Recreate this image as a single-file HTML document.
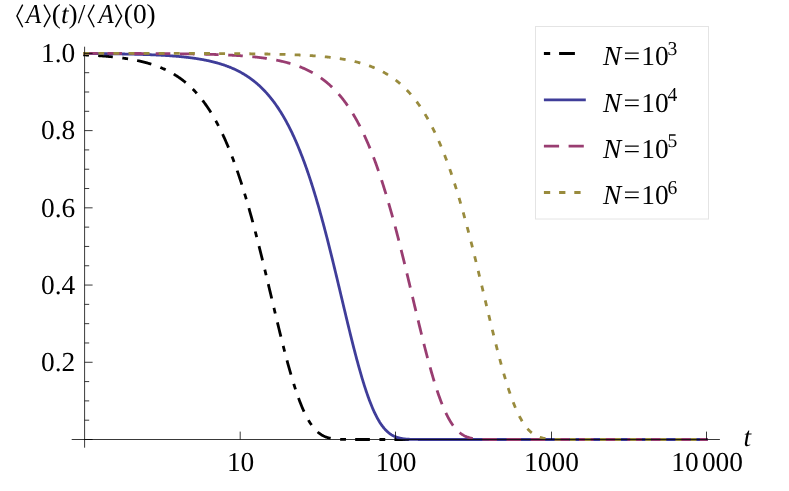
<!DOCTYPE html><html><head><meta charset="utf-8"><style>html,body{margin:0;padding:0;background:#fff}svg{display:block;will-change:transform}text{text-rendering:geometricPrecision;font-family:"Liberation Serif",serif;fill:#000}</style></head><body>
<svg width="789" height="491" viewBox="0 0 789 491">
<rect width="789" height="491" fill="#fff"/>
<path d="M83.20,54.85 L83.70,54.87 L84.20,54.89 L84.70,54.92 L85.20,54.94 L85.70,54.96 L86.20,54.99 L86.70,55.01 L87.20,55.03 L87.70,55.06 L88.20,55.08 L88.70,55.11 L89.20,55.13 L89.70,55.16 L90.20,55.18 L90.70,55.21 L91.20,55.24 L91.70,55.27 L92.20,55.29 L92.70,55.32 L93.20,55.35 L93.70,55.38 L94.20,55.41 L94.70,55.44 L95.20,55.47 L95.70,55.50 L96.20,55.53 L96.70,55.56 L97.20,55.59 L97.70,55.63 L98.20,55.66 L98.70,55.69 L99.20,55.73 L99.70,55.76 L100.20,55.80 L100.70,55.83 L101.20,55.87 L101.70,55.91 L102.20,55.94 L102.70,55.98 L103.20,56.02 L103.70,56.06 L104.20,56.10 L104.70,56.14 L105.20,56.18 L105.70,56.22 L106.20,56.26 L106.70,56.31 L107.20,56.35 L107.70,56.39 L108.20,56.44 L108.70,56.48 L109.20,56.53 L109.70,56.58 L110.20,56.62 L110.70,56.67 L111.20,56.72 L111.70,56.77 L112.20,56.82 L112.70,56.87 L113.20,56.92 L113.70,56.97 L114.20,57.03 L114.70,57.08 L115.20,57.14 L115.70,57.19 L116.20,57.25 L116.70,57.30 L117.20,57.36 L117.70,57.42 L118.20,57.48 L118.70,57.54 L119.20,57.60 L119.70,57.67 L120.20,57.73 L120.70,57.79 L121.20,57.86 L121.70,57.92 L122.20,57.99 L122.70,58.06 L123.20,58.13 L123.70,58.20 L124.20,58.27 L124.70,58.34 L125.20,58.42 L125.70,58.49 L126.20,58.57 L126.70,58.64 L127.20,58.72 L127.70,58.80 L128.20,58.88 L128.70,58.96 L129.20,59.04 L129.70,59.13 L130.20,59.21 L130.70,59.30 L131.20,59.39 L131.70,59.47 L132.20,59.56 L132.70,59.66 L133.20,59.75 L133.70,59.84 L134.20,59.94 L134.70,60.03 L135.20,60.13 L135.70,60.23 L136.20,60.33 L136.70,60.44 L137.20,60.54 L137.70,60.65 L138.20,60.75 L138.70,60.86 L139.20,60.97 L139.70,61.08 L140.20,61.20 L140.70,61.31 L141.20,61.43 L141.70,61.55 L142.20,61.67 L142.70,61.79 L143.20,61.91 L143.70,62.04 L144.20,62.17 L144.70,62.30 L145.20,62.43 L145.70,62.56 L146.20,62.70 L146.70,62.83 L147.20,62.97 L147.70,63.11 L148.20,63.26 L148.70,63.40 L149.20,63.55 L149.70,63.70 L150.20,63.85 L150.70,64.01 L151.20,64.16 L151.70,64.32 L152.20,64.48 L152.70,64.64 L153.20,64.81 L153.70,64.98 L154.20,65.15 L154.70,65.32 L155.20,65.50 L155.70,65.67 L156.20,65.85 L156.70,66.04 L157.20,66.22 L157.70,66.41 L158.20,66.60 L158.70,66.80 L159.20,66.99 L159.70,67.19 L160.20,67.39 L160.70,67.60 L161.20,67.81 L161.70,68.02 L162.20,68.23 L162.70,68.45 L163.20,68.67 L163.70,68.89 L164.20,69.12 L164.70,69.35 L165.20,69.58 L165.70,69.82 L166.20,70.06 L166.70,70.30 L167.20,70.55 L167.70,70.80 L168.20,71.05 L168.70,71.31 L169.20,71.57 L169.70,71.84 L170.20,72.11 L170.70,72.38 L171.20,72.65 L171.70,72.93 L172.20,73.22 L172.70,73.51 L173.20,73.80 L173.70,74.10 L174.20,74.40 L174.70,74.70 L175.20,75.01 L175.70,75.32 L176.20,75.64 L176.70,75.96 L177.20,76.29 L177.70,76.62 L178.20,76.96 L178.70,77.30 L179.20,77.64 L179.70,78.00 L180.20,78.35 L180.70,78.71 L181.20,79.08 L181.70,79.45 L182.20,79.82 L182.70,80.20 L183.20,80.59 L183.70,80.98 L184.20,81.38 L184.70,81.78 L185.20,82.19 L185.70,82.60 L186.20,83.02 L186.70,83.44 L187.20,83.87 L187.70,84.31 L188.20,84.75 L188.70,85.20 L189.20,85.66 L189.70,86.12 L190.20,86.58 L190.70,87.06 L191.20,87.54 L191.70,88.02 L192.20,88.52 L192.70,89.02 L193.20,89.52 L193.70,90.03 L194.20,90.55 L194.70,91.08 L195.20,91.62 L195.70,92.16 L196.20,92.71 L196.70,93.26 L197.20,93.82 L197.70,94.39 L198.20,94.97 L198.70,95.56 L199.20,96.15 L199.70,96.75 L200.20,97.36 L200.70,97.98 L201.20,98.61 L201.70,99.24 L202.20,99.88 L202.70,100.53 L203.20,101.19 L203.70,101.86 L204.20,102.53 L204.70,103.22 L205.20,103.91 L205.70,104.61 L206.20,105.32 L206.70,106.04 L207.20,106.77 L207.70,107.51 L208.20,108.26 L208.70,109.02 L209.20,109.78 L209.70,110.56 L210.20,111.35 L210.70,112.14 L211.20,112.95 L211.70,113.76 L212.20,114.59 L212.70,115.43 L213.20,116.27 L213.70,117.13 L214.20,118.00 L214.70,118.88 L215.20,119.76 L215.70,120.66 L216.20,121.57 L216.70,122.50 L217.20,123.43 L217.70,124.37 L218.20,125.33 L218.70,126.29 L219.20,127.27 L219.70,128.26 L220.20,129.26 L220.70,130.27 L221.20,131.29 L221.70,132.33 L222.20,133.38 L222.70,134.44 L223.20,135.51 L223.70,136.59 L224.20,137.69 L224.70,138.80 L225.20,139.92 L225.70,141.05 L226.20,142.20 L226.70,143.35 L227.20,144.53 L227.70,145.71 L228.20,146.91 L228.70,148.11 L229.20,149.34 L229.70,150.57 L230.20,151.82 L230.70,153.08 L231.20,154.36 L231.70,155.65 L232.20,156.95 L232.70,158.26 L233.20,159.59 L233.70,160.93 L234.20,162.29 L234.70,163.66 L235.20,165.04 L235.70,166.43 L236.20,167.84 L236.70,169.26 L237.20,170.70 L237.70,172.15 L238.20,173.61 L238.70,175.09 L239.20,176.58 L239.70,178.09 L240.20,179.61 L240.70,181.14 L241.20,182.68 L241.70,184.24 L242.20,185.82 L242.70,187.40 L243.20,189.00 L243.70,190.62 L244.20,192.24 L244.70,193.88 L245.20,195.54 L245.70,197.21 L246.20,198.89 L246.70,200.58 L247.20,202.29 L247.70,204.01 L248.20,205.74 L248.70,207.48 L249.20,209.24 L249.70,211.01 L250.20,212.80 L250.70,214.59 L251.20,216.40 L251.70,218.22 L252.20,220.05 L252.70,221.90 L253.20,223.75 L253.70,225.62 L254.20,227.50 L254.70,229.39 L255.20,231.29 L255.70,233.20 L256.20,235.13 L256.70,237.06 L257.20,239.00 L257.70,240.95 L258.20,242.92 L258.70,244.89 L259.20,246.87 L259.70,248.86 L260.20,250.86 L260.70,252.87 L261.20,254.88 L261.70,256.91 L262.20,258.94 L262.70,260.98 L263.20,263.02 L263.70,265.07 L264.20,267.13 L264.70,269.19 L265.20,271.26 L265.70,273.34 L266.20,275.42 L266.70,277.50 L267.20,279.59 L267.70,281.68 L268.20,283.78 L268.70,285.88 L269.20,287.98 L269.70,290.08 L270.20,292.18 L270.70,294.29 L271.20,296.39 L271.70,298.50 L272.20,300.60 L272.70,302.71 L273.20,304.81 L273.70,306.91 L274.20,309.01 L274.70,311.11 L275.20,313.21 L275.70,315.30 L276.20,317.38 L276.70,319.47 L277.20,321.54 L277.70,323.61 L278.20,325.68 L278.70,327.74 L279.20,329.79 L279.70,331.83 L280.20,333.86 L280.70,335.89 L281.20,337.90 L281.70,339.91 L282.20,341.91 L282.70,343.89 L283.20,345.86 L283.70,347.82 L284.20,349.77 L284.70,351.71 L285.20,353.63 L285.70,355.53 L286.20,357.43 L286.70,359.30 L287.20,361.16 L287.70,363.01 L288.20,364.84 L288.70,366.65 L289.20,368.44 L289.70,370.21 L290.20,371.97 L290.70,373.70 L291.20,375.42 L291.70,377.12 L292.20,378.79 L292.70,380.45 L293.20,382.08 L293.70,383.69 L294.20,385.28 L294.70,386.85 L295.20,388.39 L295.70,389.91 L296.20,391.41 L296.70,392.88 L297.20,394.33 L297.70,395.76 L298.20,397.16 L298.70,398.53 L299.20,399.88 L299.70,401.21 L300.20,402.50 L300.70,403.78 L301.20,405.03 L301.70,406.25 L302.20,407.44 L302.70,408.61 L303.20,409.76 L303.70,410.87 L304.20,411.97 L304.70,413.03 L305.20,414.07 L305.70,415.08 L306.20,416.07 L306.70,417.03 L307.20,417.96 L307.70,418.87 L308.20,419.76 L308.70,420.61 L309.20,421.45 L309.70,422.25 L310.20,423.04 L310.70,423.79 L311.20,424.53 L311.70,425.24 L312.20,425.92 L312.70,426.58 L313.20,427.22 L313.70,427.84 L314.20,428.43 L314.70,429.01 L315.20,429.56 L315.70,430.08 L316.20,430.59 L316.70,431.08 L317.20,431.55 L317.70,432.00 L318.20,432.43 L318.70,432.84 L319.20,433.23 L319.70,433.60 L320.20,433.96 L320.70,434.30 L321.20,434.62 L321.70,434.93 L322.20,435.22 L322.70,435.50 L323.20,435.77 L323.70,436.02 L324.20,436.25 L324.70,436.48 L325.20,436.69 L325.70,436.89 L326.20,437.08 L326.70,437.25 L327.20,437.42 L327.70,437.57 L328.20,437.72 L328.70,437.86 L329.20,437.99 L329.70,438.11 L330.20,438.22 L330.70,438.32 L331.20,438.42 L331.70,438.51 L332.20,438.60 L332.70,438.67 L333.20,438.75 L333.70,438.81 L334.20,438.88 L334.70,438.93 L335.20,438.99 L335.70,439.03 L336.20,439.08 L336.70,439.12 L337.20,439.16 L337.70,439.19 L338.20,439.22 L338.70,439.25 L339.20,439.28 L339.70,439.30 L340.20,439.32 L340.70,439.34 L341.20,439.36 L341.70,439.37 L342.20,439.39 L342.70,439.40 L343.20,439.41 L343.70,439.42 L344.20,439.43 L344.70,439.44 L345.20,439.45 L345.70,439.45 L346.20,439.46 L346.70,439.47 L347.20,439.47 L347.70,439.47 L348.20,439.48 L348.70,439.48 L349.20,439.48 L349.70,439.49 L350.20,439.49 L350.70,439.49 L351.20,439.49 L351.70,439.49 L352.20,439.49 L352.70,439.49 L353.20,439.50 L353.70,439.50 L354.20,439.50 L354.70,439.50 L355.20,439.50 L355.70,439.50 L356.20,439.50 L356.70,439.50 L357.20,439.50 L357.70,439.50 L358.20,439.50 L358.70,439.50 L359.20,439.50 L359.70,439.50 L360.20,439.50 L360.70,439.50 L361.20,439.50 L361.70,439.50 L362.20,439.50 L362.70,439.50 L363.20,439.50 L363.70,439.50 L364.20,439.50 L364.70,439.50 L365.20,439.50 L365.70,439.50 L366.20,439.50 L366.70,439.50 L367.20,439.50 L367.70,439.50 L368.20,439.50 L368.70,439.50 L369.20,439.50 L369.70,439.50 L370.20,439.50 L370.70,439.50 L371.20,439.50 L371.70,439.50 L372.20,439.50 L372.70,439.50 L373.20,439.50 L373.70,439.50 L374.20,439.50 L374.70,439.50 L375.20,439.50 L375.70,439.50 L376.20,439.50 L376.70,439.50 L377.20,439.50 L377.70,439.50 L378.20,439.50 L378.70,439.50 L379.20,439.50 L379.70,439.50 L380.20,439.50 L380.70,439.50 L381.20,439.50 L381.70,439.50 L382.20,439.50 L382.70,439.50 L383.20,439.50 L383.70,439.50 L384.20,439.50 L384.70,439.50 L385.20,439.50 L385.70,439.50 L386.20,439.50 L386.70,439.50 L387.20,439.50 L387.70,439.50 L388.20,439.50 L388.70,439.50 L389.20,439.50 L389.70,439.50 L390.20,439.50 L390.70,439.50 L391.20,439.50 L391.70,439.50 L392.20,439.50 L392.70,439.50 L393.20,439.50 L393.70,439.50 L394.20,439.50 L394.70,439.50 L395.20,439.50 L395.70,439.50 L396.20,439.50 L396.70,439.50 L397.20,439.50 L397.70,439.50 L398.20,439.50 L398.70,439.50 L399.20,439.50 L399.70,439.50 L400.20,439.50 L400.70,439.50 L401.20,439.50 L401.70,439.50 L402.20,439.50 L402.70,439.50 L403.20,439.50 L403.70,439.50 L404.20,439.50 L404.70,439.50 L405.20,439.50 L405.70,439.50 L406.20,439.50 L406.70,439.50 L407.20,439.50 L407.70,439.50 L408.20,439.50 L408.70,439.50 L409.20,439.50 L409.70,439.50 L410.20,439.50 L410.70,439.50 L411.20,439.50 L411.70,439.50 L412.20,439.50 L412.70,439.50 L413.20,439.50 L413.70,439.50 L414.20,439.50 L414.70,439.50 L415.20,439.50 L415.70,439.50 L416.20,439.50 L416.70,439.50 L417.20,439.50 L417.70,439.50 L418.20,439.50 L418.70,439.50 L419.20,439.50 L419.70,439.50 L420.20,439.50 L420.70,439.50 L421.20,439.50 L421.70,439.50 L422.20,439.50 L422.70,439.50 L423.20,439.50 L423.70,439.50 L424.20,439.50 L424.70,439.50 L425.20,439.50 L425.70,439.50 L426.20,439.50 L426.70,439.50 L427.20,439.50 L427.70,439.50 L428.20,439.50 L428.70,439.50 L429.20,439.50 L429.70,439.50 L430.20,439.50 L430.70,439.50 L431.20,439.50 L431.70,439.50 L432.20,439.50 L432.70,439.50 L433.20,439.50 L433.70,439.50 L434.20,439.50 L434.70,439.50 L435.20,439.50 L435.70,439.50 L436.20,439.50 L436.70,439.50 L437.20,439.50 L437.70,439.50 L438.20,439.50 L438.70,439.50 L439.20,439.50 L439.70,439.50 L440.20,439.50 L440.70,439.50 L441.20,439.50 L441.70,439.50 L442.20,439.50 L442.70,439.50 L443.20,439.50 L443.70,439.50 L444.20,439.50 L444.70,439.50 L445.20,439.50 L445.70,439.50 L446.20,439.50 L446.70,439.50 L447.20,439.50 L447.70,439.50 L448.20,439.50 L448.70,439.50 L449.20,439.50 L449.70,439.50 L450.20,439.50 L450.70,439.50 L451.20,439.50 L451.70,439.50 L452.20,439.50 L452.70,439.50 L453.20,439.50 L453.70,439.50 L454.20,439.50 L454.70,439.50 L455.20,439.50 L455.70,439.50 L456.20,439.50 L456.70,439.50 L457.20,439.50 L457.70,439.50 L458.20,439.50 L458.70,439.50 L459.20,439.50 L459.70,439.50 L460.20,439.50 L460.70,439.50 L461.20,439.50 L461.70,439.50 L462.20,439.50 L462.70,439.50 L463.20,439.50 L463.70,439.50 L464.20,439.50 L464.70,439.50 L465.20,439.50 L465.70,439.50 L466.20,439.50 L466.70,439.50 L467.20,439.50 L467.70,439.50 L468.20,439.50 L468.70,439.50 L469.20,439.50 L469.70,439.50 L470.20,439.50 L470.70,439.50 L471.20,439.50 L471.70,439.50 L472.20,439.50 L472.70,439.50 L473.20,439.50 L473.70,439.50 L474.20,439.50 L474.70,439.50 L475.20,439.50 L475.70,439.50 L476.20,439.50 L476.70,439.50 L477.20,439.50 L477.70,439.50 L478.20,439.50 L478.70,439.50 L479.20,439.50 L479.70,439.50 L480.20,439.50 L480.70,439.50 L481.20,439.50 L481.70,439.50 L482.20,439.50 L482.70,439.50 L483.20,439.50 L483.70,439.50 L484.20,439.50 L484.70,439.50 L485.20,439.50 L485.70,439.50 L486.20,439.50 L486.70,439.50 L487.20,439.50 L487.70,439.50 L488.20,439.50 L488.70,439.50 L489.20,439.50 L489.70,439.50 L490.20,439.50 L490.70,439.50 L491.20,439.50 L491.70,439.50 L492.20,439.50 L492.70,439.50 L493.20,439.50 L493.70,439.50 L494.20,439.50 L494.70,439.50 L495.20,439.50 L495.70,439.50 L496.20,439.50 L496.70,439.50 L497.20,439.50 L497.70,439.50 L498.20,439.50 L498.70,439.50 L499.20,439.50 L499.70,439.50 L500.20,439.50 L500.70,439.50 L501.20,439.50 L501.70,439.50 L502.20,439.50 L502.70,439.50 L503.20,439.50 L503.70,439.50 L504.20,439.50 L504.70,439.50 L505.20,439.50 L505.70,439.50 L506.20,439.50 L506.70,439.50 L507.20,439.50 L507.70,439.50 L508.20,439.50 L508.70,439.50 L509.20,439.50 L509.70,439.50 L510.20,439.50 L510.70,439.50 L511.20,439.50 L511.70,439.50 L512.20,439.50 L512.70,439.50 L513.20,439.50 L513.70,439.50 L514.20,439.50 L514.70,439.50 L515.20,439.50 L515.70,439.50 L516.20,439.50 L516.70,439.50 L517.20,439.50 L517.70,439.50 L518.20,439.50 L518.70,439.50 L519.20,439.50 L519.70,439.50 L520.20,439.50 L520.70,439.50 L521.20,439.50 L521.70,439.50 L522.20,439.50 L522.70,439.50 L523.20,439.50 L523.70,439.50 L524.20,439.50 L524.70,439.50 L525.20,439.50 L525.70,439.50 L526.20,439.50 L526.70,439.50 L527.20,439.50 L527.70,439.50 L528.20,439.50 L528.70,439.50 L529.20,439.50 L529.70,439.50 L530.20,439.50 L530.70,439.50 L531.20,439.50 L531.70,439.50 L532.20,439.50 L532.70,439.50 L533.20,439.50 L533.70,439.50 L534.20,439.50 L534.70,439.50 L535.20,439.50 L535.70,439.50 L536.20,439.50 L536.70,439.50 L537.20,439.50 L537.70,439.50 L538.20,439.50 L538.70,439.50 L539.20,439.50 L539.70,439.50 L540.20,439.50 L540.70,439.50 L541.20,439.50 L541.70,439.50 L542.20,439.50 L542.70,439.50 L543.20,439.50 L543.70,439.50 L544.20,439.50 L544.70,439.50 L545.20,439.50 L545.70,439.50 L546.20,439.50 L546.70,439.50 L547.20,439.50 L547.70,439.50 L548.20,439.50 L548.70,439.50 L549.20,439.50 L549.70,439.50 L550.20,439.50 L550.70,439.50 L551.20,439.50 L551.70,439.50 L552.20,439.50 L552.70,439.50 L553.20,439.50 L553.70,439.50 L554.20,439.50 L554.70,439.50 L555.20,439.50 L555.70,439.50 L556.20,439.50 L556.70,439.50 L557.20,439.50 L557.70,439.50 L558.20,439.50 L558.70,439.50 L559.20,439.50 L559.70,439.50 L560.20,439.50 L560.70,439.50 L561.20,439.50 L561.70,439.50 L562.20,439.50 L562.70,439.50 L563.20,439.50 L563.70,439.50 L564.20,439.50 L564.70,439.50 L565.20,439.50 L565.70,439.50 L566.20,439.50 L566.70,439.50 L567.20,439.50 L567.70,439.50 L568.20,439.50 L568.70,439.50 L569.20,439.50 L569.70,439.50 L570.20,439.50 L570.70,439.50 L571.20,439.50 L571.70,439.50 L572.20,439.50 L572.70,439.50 L573.20,439.50 L573.70,439.50 L574.20,439.50 L574.70,439.50 L575.20,439.50 L575.70,439.50 L576.20,439.50 L576.70,439.50 L577.20,439.50 L577.70,439.50 L578.20,439.50 L578.70,439.50 L579.20,439.50 L579.70,439.50 L580.20,439.50 L580.70,439.50 L581.20,439.50 L581.70,439.50 L582.20,439.50 L582.70,439.50 L583.20,439.50 L583.70,439.50 L584.20,439.50 L584.70,439.50 L585.20,439.50 L585.70,439.50 L586.20,439.50 L586.70,439.50 L587.20,439.50 L587.70,439.50 L588.20,439.50 L588.70,439.50 L589.20,439.50 L589.70,439.50 L590.20,439.50 L590.70,439.50 L591.20,439.50 L591.70,439.50 L592.20,439.50 L592.70,439.50 L593.20,439.50 L593.70,439.50 L594.20,439.50 L594.70,439.50 L595.20,439.50 L595.70,439.50 L596.20,439.50 L596.70,439.50 L597.20,439.50 L597.70,439.50 L598.20,439.50 L598.70,439.50 L599.20,439.50 L599.70,439.50 L600.20,439.50 L600.70,439.50 L601.20,439.50 L601.70,439.50 L602.20,439.50 L602.70,439.50 L603.20,439.50 L603.70,439.50 L604.20,439.50 L604.70,439.50 L605.20,439.50 L605.70,439.50 L606.20,439.50 L606.70,439.50 L607.20,439.50 L607.70,439.50 L608.20,439.50 L608.70,439.50 L609.20,439.50 L609.70,439.50 L610.20,439.50 L610.70,439.50 L611.20,439.50 L611.70,439.50 L612.20,439.50 L612.70,439.50 L613.20,439.50 L613.70,439.50 L614.20,439.50 L614.70,439.50 L615.20,439.50 L615.70,439.50 L616.20,439.50 L616.70,439.50 L617.20,439.50 L617.70,439.50 L618.20,439.50 L618.70,439.50 L619.20,439.50 L619.70,439.50 L620.20,439.50 L620.70,439.50 L621.20,439.50 L621.70,439.50 L622.20,439.50 L622.70,439.50 L623.20,439.50 L623.70,439.50 L624.20,439.50 L624.70,439.50 L625.20,439.50 L625.70,439.50 L626.20,439.50 L626.70,439.50 L627.20,439.50 L627.70,439.50 L628.20,439.50 L628.70,439.50 L629.20,439.50 L629.70,439.50 L630.20,439.50 L630.70,439.50 L631.20,439.50 L631.70,439.50 L632.20,439.50 L632.70,439.50 L633.20,439.50 L633.70,439.50 L634.20,439.50 L634.70,439.50 L635.20,439.50 L635.70,439.50 L636.20,439.50 L636.70,439.50 L637.20,439.50 L637.70,439.50 L638.20,439.50 L638.70,439.50 L639.20,439.50 L639.70,439.50 L640.20,439.50 L640.70,439.50 L641.20,439.50 L641.70,439.50 L642.20,439.50 L642.70,439.50 L643.20,439.50 L643.70,439.50 L644.20,439.50 L644.70,439.50 L645.20,439.50 L645.70,439.50 L646.20,439.50 L646.70,439.50 L647.20,439.50 L647.70,439.50 L648.20,439.50 L648.70,439.50 L649.20,439.50 L649.70,439.50 L650.20,439.50 L650.70,439.50 L651.20,439.50 L651.70,439.50 L652.20,439.50 L652.70,439.50 L653.20,439.50 L653.70,439.50 L654.20,439.50 L654.70,439.50 L655.20,439.50 L655.70,439.50 L656.20,439.50 L656.70,439.50 L657.20,439.50 L657.70,439.50 L658.20,439.50 L658.70,439.50 L659.20,439.50 L659.70,439.50 L660.20,439.50 L660.70,439.50 L661.20,439.50 L661.70,439.50 L662.20,439.50 L662.70,439.50 L663.20,439.50 L663.70,439.50 L664.20,439.50 L664.70,439.50 L665.20,439.50 L665.70,439.50 L666.20,439.50 L666.70,439.50 L667.20,439.50 L667.70,439.50 L668.20,439.50 L668.70,439.50 L669.20,439.50 L669.70,439.50 L670.20,439.50 L670.70,439.50 L671.20,439.50 L671.70,439.50 L672.20,439.50 L672.70,439.50 L673.20,439.50 L673.70,439.50 L674.20,439.50 L674.70,439.50 L675.20,439.50 L675.70,439.50 L676.20,439.50 L676.70,439.50 L677.20,439.50 L677.70,439.50 L678.20,439.50 L678.70,439.50 L679.20,439.50 L679.70,439.50 L680.20,439.50 L680.70,439.50 L681.20,439.50 L681.70,439.50 L682.20,439.50 L682.70,439.50 L683.20,439.50 L683.70,439.50 L684.20,439.50 L684.70,439.50 L685.20,439.50 L685.70,439.50 L686.20,439.50 L686.70,439.50 L687.20,439.50 L687.70,439.50 L688.20,439.50 L688.70,439.50 L689.20,439.50 L689.70,439.50 L690.20,439.50 L690.70,439.50 L691.20,439.50 L691.70,439.50 L692.20,439.50 L692.70,439.50 L693.20,439.50 L693.70,439.50 L694.20,439.50 L694.70,439.50 L695.20,439.50 L695.70,439.50 L696.20,439.50 L696.70,439.50 L697.20,439.50 L697.70,439.50 L698.20,439.50 L698.70,439.50 L699.20,439.50 L699.70,439.50 L700.20,439.50 L700.70,439.50 L701.20,439.50 L701.70,439.50 L702.20,439.50 L702.70,439.50 L703.20,439.50 L703.70,439.50 L704.20,439.50 L704.70,439.50 L705.20,439.50 L705.70,439.50 L706.20,439.50 L706.70,439.50 L707.20,439.50 L707.70,439.50" fill="none" stroke="#000000" stroke-width="2.8" stroke-dasharray="5.8 9.2 14.7 9.575"/>
<path d="M83.20,53.58 L83.70,53.58 L84.20,53.59 L84.70,53.59 L85.20,53.59 L85.70,53.60 L86.20,53.60 L86.70,53.60 L87.20,53.60 L87.70,53.61 L88.20,53.61 L88.70,53.61 L89.20,53.62 L89.70,53.62 L90.20,53.62 L90.70,53.63 L91.20,53.63 L91.70,53.63 L92.20,53.64 L92.70,53.64 L93.20,53.64 L93.70,53.65 L94.20,53.65 L94.70,53.66 L95.20,53.66 L95.70,53.66 L96.20,53.67 L96.70,53.67 L97.20,53.68 L97.70,53.68 L98.20,53.68 L98.70,53.69 L99.20,53.69 L99.70,53.70 L100.20,53.70 L100.70,53.71 L101.20,53.71 L101.70,53.71 L102.20,53.72 L102.70,53.72 L103.20,53.73 L103.70,53.73 L104.20,53.74 L104.70,53.74 L105.20,53.75 L105.70,53.75 L106.20,53.76 L106.70,53.77 L107.20,53.77 L107.70,53.78 L108.20,53.78 L108.70,53.79 L109.20,53.79 L109.70,53.80 L110.20,53.80 L110.70,53.81 L111.20,53.82 L111.70,53.82 L112.20,53.83 L112.70,53.84 L113.20,53.84 L113.70,53.85 L114.20,53.86 L114.70,53.86 L115.20,53.87 L115.70,53.88 L116.20,53.88 L116.70,53.89 L117.20,53.90 L117.70,53.91 L118.20,53.91 L118.70,53.92 L119.20,53.93 L119.70,53.94 L120.20,53.94 L120.70,53.95 L121.20,53.96 L121.70,53.97 L122.20,53.98 L122.70,53.99 L123.20,54.00 L123.70,54.00 L124.20,54.01 L124.70,54.02 L125.20,54.03 L125.70,54.04 L126.20,54.05 L126.70,54.06 L127.20,54.07 L127.70,54.08 L128.20,54.09 L128.70,54.10 L129.20,54.11 L129.70,54.12 L130.20,54.13 L130.70,54.14 L131.20,54.15 L131.70,54.17 L132.20,54.18 L132.70,54.19 L133.20,54.20 L133.70,54.21 L134.20,54.22 L134.70,54.24 L135.20,54.25 L135.70,54.26 L136.20,54.27 L136.70,54.29 L137.20,54.30 L137.70,54.31 L138.20,54.33 L138.70,54.34 L139.20,54.36 L139.70,54.37 L140.20,54.38 L140.70,54.40 L141.20,54.41 L141.70,54.43 L142.20,54.44 L142.70,54.46 L143.20,54.48 L143.70,54.49 L144.20,54.51 L144.70,54.53 L145.20,54.54 L145.70,54.56 L146.20,54.58 L146.70,54.59 L147.20,54.61 L147.70,54.63 L148.20,54.65 L148.70,54.67 L149.20,54.69 L149.70,54.70 L150.20,54.72 L150.70,54.74 L151.20,54.76 L151.70,54.78 L152.20,54.81 L152.70,54.83 L153.20,54.85 L153.70,54.87 L154.20,54.89 L154.70,54.91 L155.20,54.94 L155.70,54.96 L156.20,54.98 L156.70,55.01 L157.20,55.03 L157.70,55.05 L158.20,55.08 L158.70,55.10 L159.20,55.13 L159.70,55.15 L160.20,55.18 L160.70,55.21 L161.20,55.23 L161.70,55.26 L162.20,55.29 L162.70,55.32 L163.20,55.35 L163.70,55.37 L164.20,55.40 L164.70,55.43 L165.20,55.46 L165.70,55.49 L166.20,55.53 L166.70,55.56 L167.20,55.59 L167.70,55.62 L168.20,55.66 L168.70,55.69 L169.20,55.72 L169.70,55.76 L170.20,55.79 L170.70,55.83 L171.20,55.86 L171.70,55.90 L172.20,55.94 L172.70,55.98 L173.20,56.01 L173.70,56.05 L174.20,56.09 L174.70,56.13 L175.20,56.17 L175.70,56.22 L176.20,56.26 L176.70,56.30 L177.20,56.34 L177.70,56.39 L178.20,56.43 L178.70,56.48 L179.20,56.52 L179.70,56.57 L180.20,56.62 L180.70,56.66 L181.20,56.71 L181.70,56.76 L182.20,56.81 L182.70,56.86 L183.20,56.91 L183.70,56.97 L184.20,57.02 L184.70,57.07 L185.20,57.13 L185.70,57.18 L186.20,57.24 L186.70,57.30 L187.20,57.35 L187.70,57.41 L188.20,57.47 L188.70,57.53 L189.20,57.59 L189.70,57.66 L190.20,57.72 L190.70,57.78 L191.20,57.85 L191.70,57.91 L192.20,57.98 L192.70,58.05 L193.20,58.12 L193.70,58.19 L194.20,58.26 L194.70,58.33 L195.20,58.41 L195.70,58.48 L196.20,58.55 L196.70,58.63 L197.20,58.71 L197.70,58.79 L198.20,58.87 L198.70,58.95 L199.20,59.03 L199.70,59.11 L200.20,59.20 L200.70,59.28 L201.20,59.37 L201.70,59.46 L202.20,59.55 L202.70,59.64 L203.20,59.73 L203.70,59.83 L204.20,59.92 L204.70,60.02 L205.20,60.12 L205.70,60.22 L206.20,60.32 L206.70,60.42 L207.20,60.52 L207.70,60.63 L208.20,60.74 L208.70,60.85 L209.20,60.96 L209.70,61.07 L210.20,61.18 L210.70,61.30 L211.20,61.41 L211.70,61.53 L212.20,61.65 L212.70,61.77 L213.20,61.90 L213.70,62.02 L214.20,62.15 L214.70,62.28 L215.20,62.41 L215.70,62.54 L216.20,62.68 L216.70,62.81 L217.20,62.95 L217.70,63.09 L218.20,63.24 L218.70,63.38 L219.20,63.53 L219.70,63.68 L220.20,63.83 L220.70,63.98 L221.20,64.14 L221.70,64.30 L222.20,64.46 L222.70,64.62 L223.20,64.79 L223.70,64.95 L224.20,65.12 L224.70,65.30 L225.20,65.47 L225.70,65.65 L226.20,65.83 L226.70,66.01 L227.20,66.20 L227.70,66.38 L228.20,66.57 L228.70,66.77 L229.20,66.96 L229.70,67.16 L230.20,67.36 L230.70,67.57 L231.20,67.78 L231.70,67.99 L232.20,68.20 L232.70,68.42 L233.20,68.64 L233.70,68.86 L234.20,69.09 L234.70,69.32 L235.20,69.55 L235.70,69.78 L236.20,70.02 L236.70,70.27 L237.20,70.51 L237.70,70.76 L238.20,71.02 L238.70,71.27 L239.20,71.53 L239.70,71.80 L240.20,72.07 L240.70,72.34 L241.20,72.61 L241.70,72.89 L242.20,73.18 L242.70,73.46 L243.20,73.76 L243.70,74.05 L244.20,74.35 L244.70,74.66 L245.20,74.96 L245.70,75.28 L246.20,75.59 L246.70,75.92 L247.20,76.24 L247.70,76.57 L248.20,76.91 L248.70,77.25 L249.20,77.59 L249.70,77.94 L250.20,78.30 L250.70,78.66 L251.20,79.02 L251.70,79.39 L252.20,79.77 L252.70,80.15 L253.20,80.53 L253.70,80.92 L254.20,81.32 L254.70,81.72 L255.20,82.13 L255.70,82.54 L256.20,82.96 L256.70,83.38 L257.20,83.81 L257.70,84.24 L258.20,84.69 L258.70,85.13 L259.20,85.59 L259.70,86.05 L260.20,86.51 L260.70,86.99 L261.20,87.47 L261.70,87.95 L262.20,88.44 L262.70,88.94 L263.20,89.45 L263.70,89.96 L264.20,90.48 L264.70,91.00 L265.20,91.54 L265.70,92.08 L266.20,92.62 L266.70,93.18 L267.20,93.74 L267.70,94.31 L268.20,94.89 L268.70,95.47 L269.20,96.06 L269.70,96.66 L270.20,97.27 L270.70,97.89 L271.20,98.51 L271.70,99.14 L272.20,99.79 L272.70,100.43 L273.20,101.09 L273.70,101.76 L274.20,102.43 L274.70,103.11 L275.20,103.81 L275.70,104.51 L276.20,105.22 L276.70,105.94 L277.20,106.66 L277.70,107.40 L278.20,108.15 L278.70,108.90 L279.20,109.67 L279.70,110.44 L280.20,111.23 L280.70,112.02 L281.20,112.83 L281.70,113.64 L282.20,114.47 L282.70,115.30 L283.20,116.15 L283.70,117.00 L284.20,117.87 L284.70,118.74 L285.20,119.63 L285.70,120.53 L286.20,121.44 L286.70,122.36 L287.20,123.29 L287.70,124.23 L288.20,125.18 L288.70,126.15 L289.20,127.12 L289.70,128.11 L290.20,129.11 L290.70,130.12 L291.20,131.14 L291.70,132.18 L292.20,133.22 L292.70,134.28 L293.20,135.35 L293.70,136.43 L294.20,137.52 L294.70,138.63 L295.20,139.75 L295.70,140.88 L296.20,142.03 L296.70,143.18 L297.20,144.35 L297.70,145.53 L298.20,146.73 L298.70,147.94 L299.20,149.16 L299.70,150.39 L300.20,151.64 L300.70,152.90 L301.20,154.17 L301.70,155.45 L302.20,156.75 L302.70,158.07 L303.20,159.39 L303.70,160.73 L304.20,162.09 L304.70,163.45 L305.20,164.83 L305.70,166.23 L306.20,167.63 L306.70,169.05 L307.20,170.49 L307.70,171.94 L308.20,173.40 L308.70,174.87 L309.20,176.36 L309.70,177.86 L310.20,179.38 L310.70,180.91 L311.20,182.45 L311.70,184.01 L312.20,185.58 L312.70,187.17 L313.20,188.77 L313.70,190.38 L314.20,192.00 L314.70,193.64 L315.20,195.29 L315.70,196.96 L316.20,198.64 L316.70,200.33 L317.20,202.03 L317.70,203.75 L318.20,205.48 L318.70,207.23 L319.20,208.98 L319.70,210.75 L320.20,212.53 L320.70,214.33 L321.20,216.13 L321.70,217.95 L322.20,219.78 L322.70,221.62 L323.20,223.48 L323.70,225.34 L324.20,227.22 L324.70,229.11 L325.20,231.01 L325.70,232.92 L326.20,234.84 L326.70,236.77 L327.20,238.71 L327.70,240.66 L328.20,242.63 L328.70,244.60 L329.20,246.58 L329.70,248.57 L330.20,250.56 L330.70,252.57 L331.20,254.58 L331.70,256.61 L332.20,258.64 L332.70,260.67 L333.20,262.72 L333.70,264.77 L334.20,266.83 L334.70,268.89 L335.20,270.96 L335.70,273.03 L336.20,275.11 L336.70,277.19 L337.20,279.28 L337.70,281.37 L338.20,283.47 L338.70,285.56 L339.20,287.66 L339.70,289.77 L340.20,291.87 L340.70,293.97 L341.20,296.08 L341.70,298.19 L342.20,300.29 L342.70,302.40 L343.20,304.50 L343.70,306.60 L344.20,308.70 L344.70,310.80 L345.20,312.90 L345.70,314.99 L346.20,317.08 L346.70,319.16 L347.20,321.24 L347.70,323.31 L348.20,325.37 L348.70,327.43 L349.20,329.48 L349.70,331.53 L350.20,333.56 L350.70,335.59 L351.20,337.61 L351.70,339.61 L352.20,341.61 L352.70,343.60 L353.20,345.57 L353.70,347.53 L354.20,349.48 L354.70,351.42 L355.20,353.34 L355.70,355.25 L356.20,357.15 L356.70,359.03 L357.20,360.89 L357.70,362.74 L358.20,364.57 L358.70,366.38 L359.20,368.17 L359.70,369.95 L360.20,371.71 L360.70,373.45 L361.20,375.17 L361.70,376.87 L362.20,378.54 L362.70,380.20 L363.20,381.84 L363.70,383.45 L364.20,385.05 L364.70,386.62 L365.20,388.16 L365.70,389.69 L366.20,391.19 L366.70,392.67 L367.20,394.12 L367.70,395.55 L368.20,396.95 L368.70,398.33 L369.20,399.68 L369.70,401.01 L370.20,402.31 L370.70,403.59 L371.20,404.84 L371.70,406.07 L372.20,407.27 L372.70,408.44 L373.20,409.59 L373.70,410.71 L374.20,411.81 L374.70,412.87 L375.20,413.92 L375.70,414.93 L376.20,415.92 L376.70,416.89 L377.20,417.83 L377.70,418.74 L378.20,419.63 L378.70,420.49 L379.20,421.32 L379.70,422.14 L380.20,422.92 L380.70,423.68 L381.20,424.42 L381.70,425.13 L382.20,425.82 L382.70,426.49 L383.20,427.13 L383.70,427.75 L384.20,428.35 L384.70,428.92 L385.20,429.48 L385.70,430.01 L386.20,430.52 L386.70,431.01 L387.20,431.48 L387.70,431.93 L388.20,432.36 L388.70,432.78 L389.20,433.17 L389.70,433.55 L390.20,433.91 L390.70,434.25 L391.20,434.58 L391.70,434.89 L392.20,435.18 L392.70,435.46 L393.20,435.73 L393.70,435.98 L394.20,436.22 L394.70,436.44 L395.20,436.66 L395.70,436.86 L396.20,437.05 L396.70,437.23 L397.20,437.39 L397.70,437.55 L398.20,437.70 L398.70,437.84 L399.20,437.97 L399.70,438.09 L400.20,438.20 L400.70,438.31 L401.20,438.41 L401.70,438.50 L402.20,438.58 L402.70,438.66 L403.20,438.74 L403.70,438.80 L404.20,438.87 L404.70,438.93 L405.20,438.98 L405.70,439.03 L406.20,439.07 L406.70,439.11 L407.20,439.15 L407.70,439.19 L408.20,439.22 L408.70,439.25 L409.20,439.27 L409.70,439.30 L410.20,439.32 L410.70,439.34 L411.20,439.36 L411.70,439.37 L412.20,439.39 L412.70,439.40 L413.20,439.41 L413.70,439.42 L414.20,439.43 L414.70,439.44 L415.20,439.45 L415.70,439.45 L416.20,439.46 L416.70,439.46 L417.20,439.47 L417.70,439.47 L418.20,439.48 L418.70,439.48 L419.20,439.48 L419.70,439.49 L420.20,439.49 L420.70,439.49 L421.20,439.49 L421.70,439.49 L422.20,439.49 L422.70,439.49 L423.20,439.50 L423.70,439.50 L424.20,439.50 L424.70,439.50 L425.20,439.50 L425.70,439.50 L426.20,439.50 L426.70,439.50 L427.20,439.50 L427.70,439.50 L428.20,439.50 L428.70,439.50 L429.20,439.50 L429.70,439.50 L430.20,439.50 L430.70,439.50 L431.20,439.50 L431.70,439.50 L432.20,439.50 L432.70,439.50 L433.20,439.50 L433.70,439.50 L434.20,439.50 L434.70,439.50 L435.20,439.50 L435.70,439.50 L436.20,439.50 L436.70,439.50 L437.20,439.50 L437.70,439.50 L438.20,439.50 L438.70,439.50 L439.20,439.50 L439.70,439.50 L440.20,439.50 L440.70,439.50 L441.20,439.50 L441.70,439.50 L442.20,439.50 L442.70,439.50 L443.20,439.50 L443.70,439.50 L444.20,439.50 L444.70,439.50 L445.20,439.50 L445.70,439.50 L446.20,439.50 L446.70,439.50 L447.20,439.50 L447.70,439.50 L448.20,439.50 L448.70,439.50 L449.20,439.50 L449.70,439.50 L450.20,439.50 L450.70,439.50 L451.20,439.50 L451.70,439.50 L452.20,439.50 L452.70,439.50 L453.20,439.50 L453.70,439.50 L454.20,439.50 L454.70,439.50 L455.20,439.50 L455.70,439.50 L456.20,439.50 L456.70,439.50 L457.20,439.50 L457.70,439.50 L458.20,439.50 L458.70,439.50 L459.20,439.50 L459.70,439.50 L460.20,439.50 L460.70,439.50 L461.20,439.50 L461.70,439.50 L462.20,439.50 L462.70,439.50 L463.20,439.50 L463.70,439.50 L464.20,439.50 L464.70,439.50 L465.20,439.50 L465.70,439.50 L466.20,439.50 L466.70,439.50 L467.20,439.50 L467.70,439.50 L468.20,439.50 L468.70,439.50 L469.20,439.50 L469.70,439.50 L470.20,439.50 L470.70,439.50 L471.20,439.50 L471.70,439.50 L472.20,439.50 L472.70,439.50 L473.20,439.50 L473.70,439.50 L474.20,439.50 L474.70,439.50 L475.20,439.50 L475.70,439.50 L476.20,439.50 L476.70,439.50 L477.20,439.50 L477.70,439.50 L478.20,439.50 L478.70,439.50 L479.20,439.50 L479.70,439.50 L480.20,439.50 L480.70,439.50 L481.20,439.50 L481.70,439.50 L482.20,439.50 L482.70,439.50 L483.20,439.50 L483.70,439.50 L484.20,439.50 L484.70,439.50 L485.20,439.50 L485.70,439.50 L486.20,439.50 L486.70,439.50 L487.20,439.50 L487.70,439.50 L488.20,439.50 L488.70,439.50 L489.20,439.50 L489.70,439.50 L490.20,439.50 L490.70,439.50 L491.20,439.50 L491.70,439.50 L492.20,439.50 L492.70,439.50 L493.20,439.50 L493.70,439.50 L494.20,439.50 L494.70,439.50 L495.20,439.50 L495.70,439.50 L496.20,439.50 L496.70,439.50 L497.20,439.50 L497.70,439.50 L498.20,439.50 L498.70,439.50 L499.20,439.50 L499.70,439.50 L500.20,439.50 L500.70,439.50 L501.20,439.50 L501.70,439.50 L502.20,439.50 L502.70,439.50 L503.20,439.50 L503.70,439.50 L504.20,439.50 L504.70,439.50 L505.20,439.50 L505.70,439.50 L506.20,439.50 L506.70,439.50 L507.20,439.50 L507.70,439.50 L508.20,439.50 L508.70,439.50 L509.20,439.50 L509.70,439.50 L510.20,439.50 L510.70,439.50 L511.20,439.50 L511.70,439.50 L512.20,439.50 L512.70,439.50 L513.20,439.50 L513.70,439.50 L514.20,439.50 L514.70,439.50 L515.20,439.50 L515.70,439.50 L516.20,439.50 L516.70,439.50 L517.20,439.50 L517.70,439.50 L518.20,439.50 L518.70,439.50 L519.20,439.50 L519.70,439.50 L520.20,439.50 L520.70,439.50 L521.20,439.50 L521.70,439.50 L522.20,439.50 L522.70,439.50 L523.20,439.50 L523.70,439.50 L524.20,439.50 L524.70,439.50 L525.20,439.50 L525.70,439.50 L526.20,439.50 L526.70,439.50 L527.20,439.50 L527.70,439.50 L528.20,439.50 L528.70,439.50 L529.20,439.50 L529.70,439.50 L530.20,439.50 L530.70,439.50 L531.20,439.50 L531.70,439.50 L532.20,439.50 L532.70,439.50 L533.20,439.50 L533.70,439.50 L534.20,439.50 L534.70,439.50 L535.20,439.50 L535.70,439.50 L536.20,439.50 L536.70,439.50 L537.20,439.50 L537.70,439.50 L538.20,439.50 L538.70,439.50 L539.20,439.50 L539.70,439.50 L540.20,439.50 L540.70,439.50 L541.20,439.50 L541.70,439.50 L542.20,439.50 L542.70,439.50 L543.20,439.50 L543.70,439.50 L544.20,439.50 L544.70,439.50 L545.20,439.50 L545.70,439.50 L546.20,439.50 L546.70,439.50 L547.20,439.50 L547.70,439.50 L548.20,439.50 L548.70,439.50 L549.20,439.50 L549.70,439.50 L550.20,439.50 L550.70,439.50 L551.20,439.50 L551.70,439.50 L552.20,439.50 L552.70,439.50 L553.20,439.50 L553.70,439.50 L554.20,439.50 L554.70,439.50 L555.20,439.50 L555.70,439.50 L556.20,439.50 L556.70,439.50 L557.20,439.50 L557.70,439.50 L558.20,439.50 L558.70,439.50 L559.20,439.50 L559.70,439.50 L560.20,439.50 L560.70,439.50 L561.20,439.50 L561.70,439.50 L562.20,439.50 L562.70,439.50 L563.20,439.50 L563.70,439.50 L564.20,439.50 L564.70,439.50 L565.20,439.50 L565.70,439.50 L566.20,439.50 L566.70,439.50 L567.20,439.50 L567.70,439.50 L568.20,439.50 L568.70,439.50 L569.20,439.50 L569.70,439.50 L570.20,439.50 L570.70,439.50 L571.20,439.50 L571.70,439.50 L572.20,439.50 L572.70,439.50 L573.20,439.50 L573.70,439.50 L574.20,439.50 L574.70,439.50 L575.20,439.50 L575.70,439.50 L576.20,439.50 L576.70,439.50 L577.20,439.50 L577.70,439.50 L578.20,439.50 L578.70,439.50 L579.20,439.50 L579.70,439.50 L580.20,439.50 L580.70,439.50 L581.20,439.50 L581.70,439.50 L582.20,439.50 L582.70,439.50 L583.20,439.50 L583.70,439.50 L584.20,439.50 L584.70,439.50 L585.20,439.50 L585.70,439.50 L586.20,439.50 L586.70,439.50 L587.20,439.50 L587.70,439.50 L588.20,439.50 L588.70,439.50 L589.20,439.50 L589.70,439.50 L590.20,439.50 L590.70,439.50 L591.20,439.50 L591.70,439.50 L592.20,439.50 L592.70,439.50 L593.20,439.50 L593.70,439.50 L594.20,439.50 L594.70,439.50 L595.20,439.50 L595.70,439.50 L596.20,439.50 L596.70,439.50 L597.20,439.50 L597.70,439.50 L598.20,439.50 L598.70,439.50 L599.20,439.50 L599.70,439.50 L600.20,439.50 L600.70,439.50 L601.20,439.50 L601.70,439.50 L602.20,439.50 L602.70,439.50 L603.20,439.50 L603.70,439.50 L604.20,439.50 L604.70,439.50 L605.20,439.50 L605.70,439.50 L606.20,439.50 L606.70,439.50 L607.20,439.50 L607.70,439.50 L608.20,439.50 L608.70,439.50 L609.20,439.50 L609.70,439.50 L610.20,439.50 L610.70,439.50 L611.20,439.50 L611.70,439.50 L612.20,439.50 L612.70,439.50 L613.20,439.50 L613.70,439.50 L614.20,439.50 L614.70,439.50 L615.20,439.50 L615.70,439.50 L616.20,439.50 L616.70,439.50 L617.20,439.50 L617.70,439.50 L618.20,439.50 L618.70,439.50 L619.20,439.50 L619.70,439.50 L620.20,439.50 L620.70,439.50 L621.20,439.50 L621.70,439.50 L622.20,439.50 L622.70,439.50 L623.20,439.50 L623.70,439.50 L624.20,439.50 L624.70,439.50 L625.20,439.50 L625.70,439.50 L626.20,439.50 L626.70,439.50 L627.20,439.50 L627.70,439.50 L628.20,439.50 L628.70,439.50 L629.20,439.50 L629.70,439.50 L630.20,439.50 L630.70,439.50 L631.20,439.50 L631.70,439.50 L632.20,439.50 L632.70,439.50 L633.20,439.50 L633.70,439.50 L634.20,439.50 L634.70,439.50 L635.20,439.50 L635.70,439.50 L636.20,439.50 L636.70,439.50 L637.20,439.50 L637.70,439.50 L638.20,439.50 L638.70,439.50 L639.20,439.50 L639.70,439.50 L640.20,439.50 L640.70,439.50 L641.20,439.50 L641.70,439.50 L642.20,439.50 L642.70,439.50 L643.20,439.50 L643.70,439.50 L644.20,439.50 L644.70,439.50 L645.20,439.50 L645.70,439.50 L646.20,439.50 L646.70,439.50 L647.20,439.50 L647.70,439.50 L648.20,439.50 L648.70,439.50 L649.20,439.50 L649.70,439.50 L650.20,439.50 L650.70,439.50 L651.20,439.50 L651.70,439.50 L652.20,439.50 L652.70,439.50 L653.20,439.50 L653.70,439.50 L654.20,439.50 L654.70,439.50 L655.20,439.50 L655.70,439.50 L656.20,439.50 L656.70,439.50 L657.20,439.50 L657.70,439.50 L658.20,439.50 L658.70,439.50 L659.20,439.50 L659.70,439.50 L660.20,439.50 L660.70,439.50 L661.20,439.50 L661.70,439.50 L662.20,439.50 L662.70,439.50 L663.20,439.50 L663.70,439.50 L664.20,439.50 L664.70,439.50 L665.20,439.50 L665.70,439.50 L666.20,439.50 L666.70,439.50 L667.20,439.50 L667.70,439.50 L668.20,439.50 L668.70,439.50 L669.20,439.50 L669.70,439.50 L670.20,439.50 L670.70,439.50 L671.20,439.50 L671.70,439.50 L672.20,439.50 L672.70,439.50 L673.20,439.50 L673.70,439.50 L674.20,439.50 L674.70,439.50 L675.20,439.50 L675.70,439.50 L676.20,439.50 L676.70,439.50 L677.20,439.50 L677.70,439.50 L678.20,439.50 L678.70,439.50 L679.20,439.50 L679.70,439.50 L680.20,439.50 L680.70,439.50 L681.20,439.50 L681.70,439.50 L682.20,439.50 L682.70,439.50 L683.20,439.50 L683.70,439.50 L684.20,439.50 L684.70,439.50 L685.20,439.50 L685.70,439.50 L686.20,439.50 L686.70,439.50 L687.20,439.50 L687.70,439.50 L688.20,439.50 L688.70,439.50 L689.20,439.50 L689.70,439.50 L690.20,439.50 L690.70,439.50 L691.20,439.50 L691.70,439.50 L692.20,439.50 L692.70,439.50 L693.20,439.50 L693.70,439.50 L694.20,439.50 L694.70,439.50 L695.20,439.50 L695.70,439.50 L696.20,439.50 L696.70,439.50 L697.20,439.50 L697.70,439.50 L698.20,439.50 L698.70,439.50 L699.20,439.50 L699.70,439.50 L700.20,439.50 L700.70,439.50 L701.20,439.50 L701.70,439.50 L702.20,439.50 L702.70,439.50 L703.20,439.50 L703.70,439.50 L704.20,439.50 L704.70,439.50 L705.20,439.50 L705.70,439.50 L706.20,439.50 L706.70,439.50 L707.20,439.50 L707.70,439.50" fill="none" stroke="#3F3D99" stroke-width="2.8"/>
<path d="M83.20,53.42 L83.70,53.42 L84.20,53.42 L84.70,53.42 L85.20,53.42 L85.70,53.42 L86.20,53.42 L86.70,53.42 L87.20,53.42 L87.70,53.43 L88.20,53.43 L88.70,53.43 L89.20,53.43 L89.70,53.43 L90.20,53.43 L90.70,53.43 L91.20,53.43 L91.70,53.43 L92.20,53.43 L92.70,53.43 L93.20,53.43 L93.70,53.43 L94.20,53.43 L94.70,53.43 L95.20,53.43 L95.70,53.43 L96.20,53.43 L96.70,53.43 L97.20,53.43 L97.70,53.43 L98.20,53.43 L98.70,53.43 L99.20,53.44 L99.70,53.44 L100.20,53.44 L100.70,53.44 L101.20,53.44 L101.70,53.44 L102.20,53.44 L102.70,53.44 L103.20,53.44 L103.70,53.44 L104.20,53.44 L104.70,53.44 L105.20,53.44 L105.70,53.44 L106.20,53.44 L106.70,53.44 L107.20,53.44 L107.70,53.45 L108.20,53.45 L108.70,53.45 L109.20,53.45 L109.70,53.45 L110.20,53.45 L110.70,53.45 L111.20,53.45 L111.70,53.45 L112.20,53.45 L112.70,53.45 L113.20,53.45 L113.70,53.45 L114.20,53.46 L114.70,53.46 L115.20,53.46 L115.70,53.46 L116.20,53.46 L116.70,53.46 L117.20,53.46 L117.70,53.46 L118.20,53.46 L118.70,53.46 L119.20,53.46 L119.70,53.47 L120.20,53.47 L120.70,53.47 L121.20,53.47 L121.70,53.47 L122.20,53.47 L122.70,53.47 L123.20,53.47 L123.70,53.47 L124.20,53.47 L124.70,53.48 L125.20,53.48 L125.70,53.48 L126.20,53.48 L126.70,53.48 L127.20,53.48 L127.70,53.48 L128.20,53.48 L128.70,53.49 L129.20,53.49 L129.70,53.49 L130.20,53.49 L130.70,53.49 L131.20,53.49 L131.70,53.49 L132.20,53.49 L132.70,53.50 L133.20,53.50 L133.70,53.50 L134.20,53.50 L134.70,53.50 L135.20,53.50 L135.70,53.50 L136.20,53.51 L136.70,53.51 L137.20,53.51 L137.70,53.51 L138.20,53.51 L138.70,53.51 L139.20,53.52 L139.70,53.52 L140.20,53.52 L140.70,53.52 L141.20,53.52 L141.70,53.53 L142.20,53.53 L142.70,53.53 L143.20,53.53 L143.70,53.53 L144.20,53.53 L144.70,53.54 L145.20,53.54 L145.70,53.54 L146.20,53.54 L146.70,53.55 L147.20,53.55 L147.70,53.55 L148.20,53.55 L148.70,53.55 L149.20,53.56 L149.70,53.56 L150.20,53.56 L150.70,53.56 L151.20,53.57 L151.70,53.57 L152.20,53.57 L152.70,53.57 L153.20,53.58 L153.70,53.58 L154.20,53.58 L154.70,53.58 L155.20,53.59 L155.70,53.59 L156.20,53.59 L156.70,53.60 L157.20,53.60 L157.70,53.60 L158.20,53.60 L158.70,53.61 L159.20,53.61 L159.70,53.61 L160.20,53.62 L160.70,53.62 L161.20,53.62 L161.70,53.63 L162.20,53.63 L162.70,53.63 L163.20,53.64 L163.70,53.64 L164.20,53.64 L164.70,53.65 L165.20,53.65 L165.70,53.65 L166.20,53.66 L166.70,53.66 L167.20,53.67 L167.70,53.67 L168.20,53.67 L168.70,53.68 L169.20,53.68 L169.70,53.69 L170.20,53.69 L170.70,53.70 L171.20,53.70 L171.70,53.70 L172.20,53.71 L172.70,53.71 L173.20,53.72 L173.70,53.72 L174.20,53.73 L174.70,53.73 L175.20,53.74 L175.70,53.74 L176.20,53.75 L176.70,53.75 L177.20,53.76 L177.70,53.76 L178.20,53.77 L178.70,53.77 L179.20,53.78 L179.70,53.79 L180.20,53.79 L180.70,53.80 L181.20,53.80 L181.70,53.81 L182.20,53.82 L182.70,53.82 L183.20,53.83 L183.70,53.83 L184.20,53.84 L184.70,53.85 L185.20,53.85 L185.70,53.86 L186.20,53.87 L186.70,53.87 L187.20,53.88 L187.70,53.89 L188.20,53.90 L188.70,53.90 L189.20,53.91 L189.70,53.92 L190.20,53.93 L190.70,53.93 L191.20,53.94 L191.70,53.95 L192.20,53.96 L192.70,53.97 L193.20,53.98 L193.70,53.98 L194.20,53.99 L194.70,54.00 L195.20,54.01 L195.70,54.02 L196.20,54.03 L196.70,54.04 L197.20,54.05 L197.70,54.06 L198.20,54.07 L198.70,54.08 L199.20,54.09 L199.70,54.10 L200.20,54.11 L200.70,54.12 L201.20,54.13 L201.70,54.14 L202.20,54.15 L202.70,54.16 L203.20,54.17 L203.70,54.19 L204.20,54.20 L204.70,54.21 L205.20,54.22 L205.70,54.23 L206.20,54.25 L206.70,54.26 L207.20,54.27 L207.70,54.28 L208.20,54.30 L208.70,54.31 L209.20,54.32 L209.70,54.34 L210.20,54.35 L210.70,54.37 L211.20,54.38 L211.70,54.40 L212.20,54.41 L212.70,54.43 L213.20,54.44 L213.70,54.46 L214.20,54.47 L214.70,54.49 L215.20,54.50 L215.70,54.52 L216.20,54.54 L216.70,54.55 L217.20,54.57 L217.70,54.59 L218.20,54.61 L218.70,54.63 L219.20,54.64 L219.70,54.66 L220.20,54.68 L220.70,54.70 L221.20,54.72 L221.70,54.74 L222.20,54.76 L222.70,54.78 L223.20,54.80 L223.70,54.82 L224.20,54.84 L224.70,54.86 L225.20,54.88 L225.70,54.91 L226.20,54.93 L226.70,54.95 L227.20,54.98 L227.70,55.00 L228.20,55.02 L228.70,55.05 L229.20,55.07 L229.70,55.10 L230.20,55.12 L230.70,55.15 L231.20,55.17 L231.70,55.20 L232.20,55.23 L232.70,55.25 L233.20,55.28 L233.70,55.31 L234.20,55.34 L234.70,55.37 L235.20,55.40 L235.70,55.43 L236.20,55.46 L236.70,55.49 L237.20,55.52 L237.70,55.55 L238.20,55.58 L238.70,55.61 L239.20,55.65 L239.70,55.68 L240.20,55.71 L240.70,55.75 L241.20,55.78 L241.70,55.82 L242.20,55.86 L242.70,55.89 L243.20,55.93 L243.70,55.97 L244.20,56.00 L244.70,56.04 L245.20,56.08 L245.70,56.12 L246.20,56.16 L246.70,56.20 L247.20,56.25 L247.70,56.29 L248.20,56.33 L248.70,56.38 L249.20,56.42 L249.70,56.46 L250.20,56.51 L250.70,56.56 L251.20,56.60 L251.70,56.65 L252.20,56.70 L252.70,56.75 L253.20,56.80 L253.70,56.85 L254.20,56.90 L254.70,56.95 L255.20,57.00 L255.70,57.06 L256.20,57.11 L256.70,57.17 L257.20,57.22 L257.70,57.28 L258.20,57.34 L258.70,57.40 L259.20,57.46 L259.70,57.52 L260.20,57.58 L260.70,57.64 L261.20,57.70 L261.70,57.77 L262.20,57.83 L262.70,57.90 L263.20,57.96 L263.70,58.03 L264.20,58.10 L264.70,58.17 L265.20,58.24 L265.70,58.31 L266.20,58.39 L266.70,58.46 L267.20,58.53 L267.70,58.61 L268.20,58.69 L268.70,58.77 L269.20,58.85 L269.70,58.93 L270.20,59.01 L270.70,59.09 L271.20,59.18 L271.70,59.26 L272.20,59.35 L272.70,59.44 L273.20,59.53 L273.70,59.62 L274.20,59.71 L274.70,59.80 L275.20,59.90 L275.70,59.99 L276.20,60.09 L276.70,60.19 L277.20,60.29 L277.70,60.39 L278.20,60.50 L278.70,60.60 L279.20,60.71 L279.70,60.82 L280.20,60.93 L280.70,61.04 L281.20,61.15 L281.70,61.27 L282.20,61.38 L282.70,61.50 L283.20,61.62 L283.70,61.74 L284.20,61.86 L284.70,61.99 L285.20,62.12 L285.70,62.24 L286.20,62.37 L286.70,62.51 L287.20,62.64 L287.70,62.78 L288.20,62.92 L288.70,63.06 L289.20,63.20 L289.70,63.34 L290.20,63.49 L290.70,63.64 L291.20,63.79 L291.70,63.94 L292.20,64.10 L292.70,64.26 L293.20,64.42 L293.70,64.58 L294.20,64.74 L294.70,64.91 L295.20,65.08 L295.70,65.25 L296.20,65.42 L296.70,65.60 L297.20,65.78 L297.70,65.96 L298.20,66.15 L298.70,66.33 L299.20,66.52 L299.70,66.72 L300.20,66.91 L300.70,67.11 L301.20,67.31 L301.70,67.52 L302.20,67.72 L302.70,67.93 L303.20,68.14 L303.70,68.36 L304.20,68.58 L304.70,68.80 L305.20,69.03 L305.70,69.26 L306.20,69.49 L306.70,69.72 L307.20,69.96 L307.70,70.20 L308.20,70.45 L308.70,70.70 L309.20,70.95 L309.70,71.21 L310.20,71.47 L310.70,71.73 L311.20,72.00 L311.70,72.27 L312.20,72.54 L312.70,72.82 L313.20,73.10 L313.70,73.39 L314.20,73.68 L314.70,73.97 L315.20,74.27 L315.70,74.58 L316.20,74.88 L316.70,75.20 L317.20,75.51 L317.70,75.83 L318.20,76.16 L318.70,76.49 L319.20,76.82 L319.70,77.16 L320.20,77.50 L320.70,77.85 L321.20,78.20 L321.70,78.56 L322.20,78.93 L322.70,79.29 L323.20,79.67 L323.70,80.05 L324.20,80.43 L324.70,80.82 L325.20,81.21 L325.70,81.61 L326.20,82.02 L326.70,82.43 L327.20,82.85 L327.70,83.27 L328.20,83.70 L328.70,84.13 L329.20,84.57 L329.70,85.02 L330.20,85.47 L330.70,85.93 L331.20,86.39 L331.70,86.86 L332.20,87.34 L332.70,87.82 L333.20,88.31 L333.70,88.81 L334.20,89.31 L334.70,89.82 L335.20,90.34 L335.70,90.87 L336.20,91.40 L336.70,91.93 L337.20,92.48 L337.70,93.03 L338.20,93.59 L338.70,94.16 L339.20,94.74 L339.70,95.32 L340.20,95.91 L340.70,96.51 L341.20,97.11 L341.70,97.73 L342.20,98.35 L342.70,98.98 L343.20,99.62 L343.70,100.26 L344.20,100.92 L344.70,101.58 L345.20,102.25 L345.70,102.94 L346.20,103.62 L346.70,104.32 L347.20,105.03 L347.70,105.75 L348.20,106.47 L348.70,107.21 L349.20,107.95 L349.70,108.71 L350.20,109.47 L350.70,110.24 L351.20,111.02 L351.70,111.82 L352.20,112.62 L352.70,113.43 L353.20,114.25 L353.70,115.08 L354.20,115.93 L354.70,116.78 L355.20,117.64 L355.70,118.52 L356.20,119.40 L356.70,120.29 L357.20,121.20 L357.70,122.12 L358.20,123.05 L358.70,123.98 L359.20,124.93 L359.70,125.90 L360.20,126.87 L360.70,127.85 L361.20,128.85 L361.70,129.85 L362.20,130.87 L362.70,131.90 L363.20,132.95 L363.70,134.00 L364.20,135.07 L364.70,136.15 L365.20,137.24 L365.70,138.34 L366.20,139.46 L366.70,140.59 L367.20,141.73 L367.70,142.88 L368.20,144.04 L368.70,145.22 L369.20,146.41 L369.70,147.62 L370.20,148.84 L370.70,150.07 L371.20,151.31 L371.70,152.57 L372.20,153.83 L372.70,155.12 L373.20,156.41 L373.70,157.72 L374.20,159.05 L374.70,160.38 L375.20,161.73 L375.70,163.09 L376.20,164.47 L376.70,165.86 L377.20,167.26 L377.70,168.68 L378.20,170.11 L378.70,171.56 L379.20,173.01 L379.70,174.49 L380.20,175.97 L380.70,177.47 L381.20,178.98 L381.70,180.51 L382.20,182.05 L382.70,183.60 L383.20,185.17 L383.70,186.75 L384.20,188.35 L384.70,189.96 L385.20,191.58 L385.70,193.21 L386.20,194.86 L386.70,196.52 L387.20,198.20 L387.70,199.89 L388.20,201.59 L388.70,203.30 L389.20,205.03 L389.70,206.77 L390.20,208.52 L390.70,210.29 L391.20,212.07 L391.70,213.86 L392.20,215.66 L392.70,217.48 L393.20,219.30 L393.70,221.14 L394.20,222.99 L394.70,224.86 L395.20,226.73 L395.70,228.62 L396.20,230.51 L396.70,232.42 L397.20,234.34 L397.70,236.27 L398.20,238.21 L398.70,240.15 L399.20,242.11 L399.70,244.08 L400.20,246.06 L400.70,248.05 L401.20,250.04 L401.70,252.05 L402.20,254.06 L402.70,256.08 L403.20,258.11 L403.70,260.14 L404.20,262.18 L404.70,264.23 L405.20,266.29 L405.70,268.35 L406.20,270.42 L406.70,272.49 L407.20,274.57 L407.70,276.65 L408.20,278.74 L408.70,280.83 L409.20,282.92 L409.70,285.02 L410.20,287.12 L410.70,289.22 L411.20,291.32 L411.70,293.43 L412.20,295.53 L412.70,297.64 L413.20,299.74 L413.70,301.85 L414.20,303.95 L414.70,306.06 L415.20,308.16 L415.70,310.26 L416.20,312.35 L416.70,314.44 L417.20,316.53 L417.70,318.61 L418.20,320.69 L418.70,322.77 L419.20,324.83 L419.70,326.89 L420.20,328.95 L420.70,330.99 L421.20,333.03 L421.70,335.06 L422.20,337.08 L422.70,339.09 L423.20,341.09 L423.70,343.08 L424.20,345.06 L424.70,347.02 L425.20,348.98 L425.70,350.92 L426.20,352.84 L426.70,354.76 L427.20,356.65 L427.70,358.54 L428.20,360.40 L428.70,362.26 L429.20,364.09 L429.70,365.91 L430.20,367.71 L430.70,369.49 L431.20,371.25 L431.70,373.00 L432.20,374.72 L432.70,376.42 L433.20,378.11 L433.70,379.77 L434.20,381.41 L434.70,383.03 L435.20,384.63 L435.70,386.21 L436.20,387.76 L436.70,389.29 L437.20,390.80 L437.70,392.28 L438.20,393.74 L438.70,395.18 L439.20,396.59 L439.70,397.97 L440.20,399.33 L440.70,400.67 L441.20,401.98 L441.70,403.26 L442.20,404.52 L442.70,405.75 L443.20,406.96 L443.70,408.14 L444.20,409.29 L444.70,410.42 L445.20,411.52 L445.70,412.60 L446.20,413.65 L446.70,414.67 L447.20,415.67 L447.70,416.64 L448.20,417.58 L448.70,418.50 L449.20,419.40 L449.70,420.27 L450.20,421.11 L450.70,421.93 L451.20,422.72 L451.70,423.49 L452.20,424.23 L452.70,424.95 L453.20,425.64 L453.70,426.32 L454.20,426.96 L454.70,427.59 L455.20,428.19 L455.70,428.77 L456.20,429.33 L456.70,429.87 L457.20,430.39 L457.70,430.88 L458.20,431.36 L458.70,431.82 L459.20,432.25 L459.70,432.67 L460.20,433.07 L460.70,433.45 L461.20,433.81 L461.70,434.16 L462.20,434.49 L462.70,434.81 L463.20,435.11 L463.70,435.39 L464.20,435.66 L464.70,435.92 L465.20,436.16 L465.70,436.39 L466.20,436.60 L466.70,436.81 L467.20,437.00 L467.70,437.18 L468.20,437.35 L468.70,437.51 L469.20,437.66 L469.70,437.80 L470.20,437.94 L470.70,438.06 L471.20,438.17 L471.70,438.28 L472.20,438.38 L472.70,438.48 L473.20,438.56 L473.70,438.64 L474.20,438.72 L474.70,438.79 L475.20,438.85 L475.70,438.91 L476.20,438.96 L476.70,439.01 L477.20,439.06 L477.70,439.10 L478.20,439.14 L478.70,439.18 L479.20,439.21 L479.70,439.24 L480.20,439.27 L480.70,439.29 L481.20,439.31 L481.70,439.33 L482.20,439.35 L482.70,439.37 L483.20,439.38 L483.70,439.40 L484.20,439.41 L484.70,439.42 L485.20,439.43 L485.70,439.44 L486.20,439.44 L486.70,439.45 L487.20,439.46 L487.70,439.46 L488.20,439.47 L488.70,439.47 L489.20,439.48 L489.70,439.48 L490.20,439.48 L490.70,439.48 L491.20,439.49 L491.70,439.49 L492.20,439.49 L492.70,439.49 L493.20,439.49 L493.70,439.49 L494.20,439.49 L494.70,439.50 L495.20,439.50 L495.70,439.50 L496.20,439.50 L496.70,439.50 L497.20,439.50 L497.70,439.50 L498.20,439.50 L498.70,439.50 L499.20,439.50 L499.70,439.50 L500.20,439.50 L500.70,439.50 L501.20,439.50 L501.70,439.50 L502.20,439.50 L502.70,439.50 L503.20,439.50 L503.70,439.50 L504.20,439.50 L504.70,439.50 L505.20,439.50 L505.70,439.50 L506.20,439.50 L506.70,439.50 L507.20,439.50 L507.70,439.50 L508.20,439.50 L508.70,439.50 L509.20,439.50 L509.70,439.50 L510.20,439.50 L510.70,439.50 L511.20,439.50 L511.70,439.50 L512.20,439.50 L512.70,439.50 L513.20,439.50 L513.70,439.50 L514.20,439.50 L514.70,439.50 L515.20,439.50 L515.70,439.50 L516.20,439.50 L516.70,439.50 L517.20,439.50 L517.70,439.50 L518.20,439.50 L518.70,439.50 L519.20,439.50 L519.70,439.50 L520.20,439.50 L520.70,439.50 L521.20,439.50 L521.70,439.50 L522.20,439.50 L522.70,439.50 L523.20,439.50 L523.70,439.50 L524.20,439.50 L524.70,439.50 L525.20,439.50 L525.70,439.50 L526.20,439.50 L526.70,439.50 L527.20,439.50 L527.70,439.50 L528.20,439.50 L528.70,439.50 L529.20,439.50 L529.70,439.50 L530.20,439.50 L530.70,439.50 L531.20,439.50 L531.70,439.50 L532.20,439.50 L532.70,439.50 L533.20,439.50 L533.70,439.50 L534.20,439.50 L534.70,439.50 L535.20,439.50 L535.70,439.50 L536.20,439.50 L536.70,439.50 L537.20,439.50 L537.70,439.50 L538.20,439.50 L538.70,439.50 L539.20,439.50 L539.70,439.50 L540.20,439.50 L540.70,439.50 L541.20,439.50 L541.70,439.50 L542.20,439.50 L542.70,439.50 L543.20,439.50 L543.70,439.50 L544.20,439.50 L544.70,439.50 L545.20,439.50 L545.70,439.50 L546.20,439.50 L546.70,439.50 L547.20,439.50 L547.70,439.50 L548.20,439.50 L548.70,439.50 L549.20,439.50 L549.70,439.50 L550.20,439.50 L550.70,439.50 L551.20,439.50 L551.70,439.50 L552.20,439.50 L552.70,439.50 L553.20,439.50 L553.70,439.50 L554.20,439.50 L554.70,439.50 L555.20,439.50 L555.70,439.50 L556.20,439.50 L556.70,439.50 L557.20,439.50 L557.70,439.50 L558.20,439.50 L558.70,439.50 L559.20,439.50 L559.70,439.50 L560.20,439.50 L560.70,439.50 L561.20,439.50 L561.70,439.50 L562.20,439.50 L562.70,439.50 L563.20,439.50 L563.70,439.50 L564.20,439.50 L564.70,439.50 L565.20,439.50 L565.70,439.50 L566.20,439.50 L566.70,439.50 L567.20,439.50 L567.70,439.50 L568.20,439.50 L568.70,439.50 L569.20,439.50 L569.70,439.50 L570.20,439.50 L570.70,439.50 L571.20,439.50 L571.70,439.50 L572.20,439.50 L572.70,439.50 L573.20,439.50 L573.70,439.50 L574.20,439.50 L574.70,439.50 L575.20,439.50 L575.70,439.50 L576.20,439.50 L576.70,439.50 L577.20,439.50 L577.70,439.50 L578.20,439.50 L578.70,439.50 L579.20,439.50 L579.70,439.50 L580.20,439.50 L580.70,439.50 L581.20,439.50 L581.70,439.50 L582.20,439.50 L582.70,439.50 L583.20,439.50 L583.70,439.50 L584.20,439.50 L584.70,439.50 L585.20,439.50 L585.70,439.50 L586.20,439.50 L586.70,439.50 L587.20,439.50 L587.70,439.50 L588.20,439.50 L588.70,439.50 L589.20,439.50 L589.70,439.50 L590.20,439.50 L590.70,439.50 L591.20,439.50 L591.70,439.50 L592.20,439.50 L592.70,439.50 L593.20,439.50 L593.70,439.50 L594.20,439.50 L594.70,439.50 L595.20,439.50 L595.70,439.50 L596.20,439.50 L596.70,439.50 L597.20,439.50 L597.70,439.50 L598.20,439.50 L598.70,439.50 L599.20,439.50 L599.70,439.50 L600.20,439.50 L600.70,439.50 L601.20,439.50 L601.70,439.50 L602.20,439.50 L602.70,439.50 L603.20,439.50 L603.70,439.50 L604.20,439.50 L604.70,439.50 L605.20,439.50 L605.70,439.50 L606.20,439.50 L606.70,439.50 L607.20,439.50 L607.70,439.50 L608.20,439.50 L608.70,439.50 L609.20,439.50 L609.70,439.50 L610.20,439.50 L610.70,439.50 L611.20,439.50 L611.70,439.50 L612.20,439.50 L612.70,439.50 L613.20,439.50 L613.70,439.50 L614.20,439.50 L614.70,439.50 L615.20,439.50 L615.70,439.50 L616.20,439.50 L616.70,439.50 L617.20,439.50 L617.70,439.50 L618.20,439.50 L618.70,439.50 L619.20,439.50 L619.70,439.50 L620.20,439.50 L620.70,439.50 L621.20,439.50 L621.70,439.50 L622.20,439.50 L622.70,439.50 L623.20,439.50 L623.70,439.50 L624.20,439.50 L624.70,439.50 L625.20,439.50 L625.70,439.50 L626.20,439.50 L626.70,439.50 L627.20,439.50 L627.70,439.50 L628.20,439.50 L628.70,439.50 L629.20,439.50 L629.70,439.50 L630.20,439.50 L630.70,439.50 L631.20,439.50 L631.70,439.50 L632.20,439.50 L632.70,439.50 L633.20,439.50 L633.70,439.50 L634.20,439.50 L634.70,439.50 L635.20,439.50 L635.70,439.50 L636.20,439.50 L636.70,439.50 L637.20,439.50 L637.70,439.50 L638.20,439.50 L638.70,439.50 L639.20,439.50 L639.70,439.50 L640.20,439.50 L640.70,439.50 L641.20,439.50 L641.70,439.50 L642.20,439.50 L642.70,439.50 L643.20,439.50 L643.70,439.50 L644.20,439.50 L644.70,439.50 L645.20,439.50 L645.70,439.50 L646.20,439.50 L646.70,439.50 L647.20,439.50 L647.70,439.50 L648.20,439.50 L648.70,439.50 L649.20,439.50 L649.70,439.50 L650.20,439.50 L650.70,439.50 L651.20,439.50 L651.70,439.50 L652.20,439.50 L652.70,439.50 L653.20,439.50 L653.70,439.50 L654.20,439.50 L654.70,439.50 L655.20,439.50 L655.70,439.50 L656.20,439.50 L656.70,439.50 L657.20,439.50 L657.70,439.50 L658.20,439.50 L658.70,439.50 L659.20,439.50 L659.70,439.50 L660.20,439.50 L660.70,439.50 L661.20,439.50 L661.70,439.50 L662.20,439.50 L662.70,439.50 L663.20,439.50 L663.70,439.50 L664.20,439.50 L664.70,439.50 L665.20,439.50 L665.70,439.50 L666.20,439.50 L666.70,439.50 L667.20,439.50 L667.70,439.50 L668.20,439.50 L668.70,439.50 L669.20,439.50 L669.70,439.50 L670.20,439.50 L670.70,439.50 L671.20,439.50 L671.70,439.50 L672.20,439.50 L672.70,439.50 L673.20,439.50 L673.70,439.50 L674.20,439.50 L674.70,439.50 L675.20,439.50 L675.70,439.50 L676.20,439.50 L676.70,439.50 L677.20,439.50 L677.70,439.50 L678.20,439.50 L678.70,439.50 L679.20,439.50 L679.70,439.50 L680.20,439.50 L680.70,439.50 L681.20,439.50 L681.70,439.50 L682.20,439.50 L682.70,439.50 L683.20,439.50 L683.70,439.50 L684.20,439.50 L684.70,439.50 L685.20,439.50 L685.70,439.50 L686.20,439.50 L686.70,439.50 L687.20,439.50 L687.70,439.50 L688.20,439.50 L688.70,439.50 L689.20,439.50 L689.70,439.50 L690.20,439.50 L690.70,439.50 L691.20,439.50 L691.70,439.50 L692.20,439.50 L692.70,439.50 L693.20,439.50 L693.70,439.50 L694.20,439.50 L694.70,439.50 L695.20,439.50 L695.70,439.50 L696.20,439.50 L696.70,439.50 L697.20,439.50 L697.70,439.50 L698.20,439.50 L698.70,439.50 L699.20,439.50 L699.70,439.50 L700.20,439.50 L700.70,439.50 L701.20,439.50 L701.70,439.50 L702.20,439.50 L702.70,439.50 L703.20,439.50 L703.70,439.50 L704.20,439.50 L704.70,439.50 L705.20,439.50 L705.70,439.50 L706.20,439.50 L706.70,439.50 L707.20,439.50 L707.70,439.50" fill="none" stroke="#993D71" stroke-width="2.8" stroke-dasharray="14.6 9.575"/>
<path d="M83.20,53.40 L83.70,53.40 L84.20,53.40 L84.70,53.40 L85.20,53.40 L85.70,53.40 L86.20,53.40 L86.70,53.40 L87.20,53.40 L87.70,53.40 L88.20,53.40 L88.70,53.40 L89.20,53.40 L89.70,53.40 L90.20,53.40 L90.70,53.40 L91.20,53.40 L91.70,53.40 L92.20,53.40 L92.70,53.40 L93.20,53.40 L93.70,53.40 L94.20,53.40 L94.70,53.40 L95.20,53.40 L95.70,53.40 L96.20,53.40 L96.70,53.40 L97.20,53.40 L97.70,53.40 L98.20,53.40 L98.70,53.40 L99.20,53.40 L99.70,53.40 L100.20,53.40 L100.70,53.40 L101.20,53.40 L101.70,53.40 L102.20,53.40 L102.70,53.40 L103.20,53.40 L103.70,53.40 L104.20,53.40 L104.70,53.40 L105.20,53.41 L105.70,53.41 L106.20,53.41 L106.70,53.41 L107.20,53.41 L107.70,53.41 L108.20,53.41 L108.70,53.41 L109.20,53.41 L109.70,53.41 L110.20,53.41 L110.70,53.41 L111.20,53.41 L111.70,53.41 L112.20,53.41 L112.70,53.41 L113.20,53.41 L113.70,53.41 L114.20,53.41 L114.70,53.41 L115.20,53.41 L115.70,53.41 L116.20,53.41 L116.70,53.41 L117.20,53.41 L117.70,53.41 L118.20,53.41 L118.70,53.41 L119.20,53.41 L119.70,53.41 L120.20,53.41 L120.70,53.41 L121.20,53.41 L121.70,53.41 L122.20,53.41 L122.70,53.41 L123.20,53.41 L123.70,53.41 L124.20,53.41 L124.70,53.41 L125.20,53.41 L125.70,53.41 L126.20,53.41 L126.70,53.41 L127.20,53.41 L127.70,53.41 L128.20,53.41 L128.70,53.41 L129.20,53.41 L129.70,53.41 L130.20,53.41 L130.70,53.41 L131.20,53.41 L131.70,53.41 L132.20,53.41 L132.70,53.41 L133.20,53.41 L133.70,53.41 L134.20,53.41 L134.70,53.41 L135.20,53.41 L135.70,53.41 L136.20,53.41 L136.70,53.41 L137.20,53.41 L137.70,53.41 L138.20,53.41 L138.70,53.41 L139.20,53.41 L139.70,53.41 L140.20,53.41 L140.70,53.41 L141.20,53.41 L141.70,53.41 L142.20,53.42 L142.70,53.42 L143.20,53.42 L143.70,53.42 L144.20,53.42 L144.70,53.42 L145.20,53.42 L145.70,53.42 L146.20,53.42 L146.70,53.42 L147.20,53.42 L147.70,53.42 L148.20,53.42 L148.70,53.42 L149.20,53.42 L149.70,53.42 L150.20,53.42 L150.70,53.42 L151.20,53.42 L151.70,53.42 L152.20,53.42 L152.70,53.42 L153.20,53.42 L153.70,53.42 L154.20,53.42 L154.70,53.42 L155.20,53.42 L155.70,53.42 L156.20,53.42 L156.70,53.42 L157.20,53.42 L157.70,53.42 L158.20,53.42 L158.70,53.42 L159.20,53.42 L159.70,53.43 L160.20,53.43 L160.70,53.43 L161.20,53.43 L161.70,53.43 L162.20,53.43 L162.70,53.43 L163.20,53.43 L163.70,53.43 L164.20,53.43 L164.70,53.43 L165.20,53.43 L165.70,53.43 L166.20,53.43 L166.70,53.43 L167.20,53.43 L167.70,53.43 L168.20,53.43 L168.70,53.43 L169.20,53.43 L169.70,53.43 L170.20,53.43 L170.70,53.44 L171.20,53.44 L171.70,53.44 L172.20,53.44 L172.70,53.44 L173.20,53.44 L173.70,53.44 L174.20,53.44 L174.70,53.44 L175.20,53.44 L175.70,53.44 L176.20,53.44 L176.70,53.44 L177.20,53.44 L177.70,53.44 L178.20,53.44 L178.70,53.44 L179.20,53.45 L179.70,53.45 L180.20,53.45 L180.70,53.45 L181.20,53.45 L181.70,53.45 L182.20,53.45 L182.70,53.45 L183.20,53.45 L183.70,53.45 L184.20,53.45 L184.70,53.45 L185.20,53.45 L185.70,53.45 L186.20,53.46 L186.70,53.46 L187.20,53.46 L187.70,53.46 L188.20,53.46 L188.70,53.46 L189.20,53.46 L189.70,53.46 L190.20,53.46 L190.70,53.46 L191.20,53.46 L191.70,53.47 L192.20,53.47 L192.70,53.47 L193.20,53.47 L193.70,53.47 L194.20,53.47 L194.70,53.47 L195.20,53.47 L195.70,53.47 L196.20,53.47 L196.70,53.48 L197.20,53.48 L197.70,53.48 L198.20,53.48 L198.70,53.48 L199.20,53.48 L199.70,53.48 L200.20,53.48 L200.70,53.49 L201.20,53.49 L201.70,53.49 L202.20,53.49 L202.70,53.49 L203.20,53.49 L203.70,53.49 L204.20,53.49 L204.70,53.50 L205.20,53.50 L205.70,53.50 L206.20,53.50 L206.70,53.50 L207.20,53.50 L207.70,53.50 L208.20,53.51 L208.70,53.51 L209.20,53.51 L209.70,53.51 L210.20,53.51 L210.70,53.51 L211.20,53.52 L211.70,53.52 L212.20,53.52 L212.70,53.52 L213.20,53.52 L213.70,53.53 L214.20,53.53 L214.70,53.53 L215.20,53.53 L215.70,53.53 L216.20,53.54 L216.70,53.54 L217.20,53.54 L217.70,53.54 L218.20,53.54 L218.70,53.55 L219.20,53.55 L219.70,53.55 L220.20,53.55 L220.70,53.55 L221.20,53.56 L221.70,53.56 L222.20,53.56 L222.70,53.56 L223.20,53.57 L223.70,53.57 L224.20,53.57 L224.70,53.57 L225.20,53.58 L225.70,53.58 L226.20,53.58 L226.70,53.58 L227.20,53.59 L227.70,53.59 L228.20,53.59 L228.70,53.60 L229.20,53.60 L229.70,53.60 L230.20,53.60 L230.70,53.61 L231.20,53.61 L231.70,53.61 L232.20,53.62 L232.70,53.62 L233.20,53.62 L233.70,53.63 L234.20,53.63 L234.70,53.63 L235.20,53.64 L235.70,53.64 L236.20,53.64 L236.70,53.65 L237.20,53.65 L237.70,53.66 L238.20,53.66 L238.70,53.66 L239.20,53.67 L239.70,53.67 L240.20,53.68 L240.70,53.68 L241.20,53.68 L241.70,53.69 L242.20,53.69 L242.70,53.70 L243.20,53.70 L243.70,53.71 L244.20,53.71 L244.70,53.71 L245.20,53.72 L245.70,53.72 L246.20,53.73 L246.70,53.73 L247.20,53.74 L247.70,53.74 L248.20,53.75 L248.70,53.75 L249.20,53.76 L249.70,53.76 L250.20,53.77 L250.70,53.78 L251.20,53.78 L251.70,53.79 L252.20,53.79 L252.70,53.80 L253.20,53.80 L253.70,53.81 L254.20,53.82 L254.70,53.82 L255.20,53.83 L255.70,53.84 L256.20,53.84 L256.70,53.85 L257.20,53.86 L257.70,53.86 L258.20,53.87 L258.70,53.88 L259.20,53.88 L259.70,53.89 L260.20,53.90 L260.70,53.91 L261.20,53.91 L261.70,53.92 L262.20,53.93 L262.70,53.94 L263.20,53.94 L263.70,53.95 L264.20,53.96 L264.70,53.97 L265.20,53.98 L265.70,53.99 L266.20,53.99 L266.70,54.00 L267.20,54.01 L267.70,54.02 L268.20,54.03 L268.70,54.04 L269.20,54.05 L269.70,54.06 L270.20,54.07 L270.70,54.08 L271.20,54.09 L271.70,54.10 L272.20,54.11 L272.70,54.12 L273.20,54.13 L273.70,54.14 L274.20,54.15 L274.70,54.16 L275.20,54.18 L275.70,54.19 L276.20,54.20 L276.70,54.21 L277.20,54.22 L277.70,54.24 L278.20,54.25 L278.70,54.26 L279.20,54.27 L279.70,54.29 L280.20,54.30 L280.70,54.31 L281.20,54.33 L281.70,54.34 L282.20,54.36 L282.70,54.37 L283.20,54.38 L283.70,54.40 L284.20,54.41 L284.70,54.43 L285.20,54.44 L285.70,54.46 L286.20,54.48 L286.70,54.49 L287.20,54.51 L287.70,54.52 L288.20,54.54 L288.70,54.56 L289.20,54.58 L289.70,54.59 L290.20,54.61 L290.70,54.63 L291.20,54.65 L291.70,54.67 L292.20,54.68 L292.70,54.70 L293.20,54.72 L293.70,54.74 L294.20,54.76 L294.70,54.78 L295.20,54.80 L295.70,54.82 L296.20,54.85 L296.70,54.87 L297.20,54.89 L297.70,54.91 L298.20,54.93 L298.70,54.96 L299.20,54.98 L299.70,55.00 L300.20,55.03 L300.70,55.05 L301.20,55.08 L301.70,55.10 L302.20,55.13 L302.70,55.15 L303.20,55.18 L303.70,55.20 L304.20,55.23 L304.70,55.26 L305.20,55.29 L305.70,55.31 L306.20,55.34 L306.70,55.37 L307.20,55.40 L307.70,55.43 L308.20,55.46 L308.70,55.49 L309.20,55.52 L309.70,55.56 L310.20,55.59 L310.70,55.62 L311.20,55.65 L311.70,55.69 L312.20,55.72 L312.70,55.76 L313.20,55.79 L313.70,55.83 L314.20,55.86 L314.70,55.90 L315.20,55.94 L315.70,55.97 L316.20,56.01 L316.70,56.05 L317.20,56.09 L317.70,56.13 L318.20,56.17 L318.70,56.21 L319.20,56.25 L319.70,56.30 L320.20,56.34 L320.70,56.38 L321.20,56.43 L321.70,56.47 L322.20,56.52 L322.70,56.57 L323.20,56.61 L323.70,56.66 L324.20,56.71 L324.70,56.76 L325.20,56.81 L325.70,56.86 L326.20,56.91 L326.70,56.96 L327.20,57.01 L327.70,57.07 L328.20,57.12 L328.70,57.18 L329.20,57.23 L329.70,57.29 L330.20,57.35 L330.70,57.41 L331.20,57.47 L331.70,57.53 L332.20,57.59 L332.70,57.65 L333.20,57.71 L333.70,57.78 L334.20,57.84 L334.70,57.91 L335.20,57.98 L335.70,58.04 L336.20,58.11 L336.70,58.18 L337.20,58.25 L337.70,58.33 L338.20,58.40 L338.70,58.47 L339.20,58.55 L339.70,58.63 L340.20,58.70 L340.70,58.78 L341.20,58.86 L341.70,58.94 L342.20,59.02 L342.70,59.11 L343.20,59.19 L343.70,59.28 L344.20,59.37 L344.70,59.45 L345.20,59.54 L345.70,59.64 L346.20,59.73 L346.70,59.82 L347.20,59.92 L347.70,60.01 L348.20,60.11 L348.70,60.21 L349.20,60.31 L349.70,60.41 L350.20,60.52 L350.70,60.62 L351.20,60.73 L351.70,60.84 L352.20,60.95 L352.70,61.06 L353.20,61.17 L353.70,61.29 L354.20,61.40 L354.70,61.52 L355.20,61.64 L355.70,61.76 L356.20,61.89 L356.70,62.01 L357.20,62.14 L357.70,62.27 L358.20,62.40 L358.70,62.53 L359.20,62.67 L359.70,62.80 L360.20,62.94 L360.70,63.08 L361.20,63.23 L361.70,63.37 L362.20,63.52 L362.70,63.67 L363.20,63.82 L363.70,63.97 L364.20,64.13 L364.70,64.29 L365.20,64.45 L365.70,64.61 L366.20,64.77 L366.70,64.94 L367.20,65.11 L367.70,65.28 L368.20,65.46 L368.70,65.64 L369.20,65.81 L369.70,66.00 L370.20,66.18 L370.70,66.37 L371.20,66.56 L371.70,66.75 L372.20,66.95 L372.70,67.15 L373.20,67.35 L373.70,67.55 L374.20,67.76 L374.70,67.97 L375.20,68.19 L375.70,68.40 L376.20,68.62 L376.70,68.84 L377.20,69.07 L377.70,69.30 L378.20,69.53 L378.70,69.77 L379.20,70.01 L379.70,70.25 L380.20,70.50 L380.70,70.75 L381.20,71.00 L381.70,71.25 L382.20,71.52 L382.70,71.78 L383.20,72.05 L383.70,72.32 L384.20,72.59 L384.70,72.87 L385.20,73.16 L385.70,73.44 L386.20,73.74 L386.70,74.03 L387.20,74.33 L387.70,74.63 L388.20,74.94 L388.70,75.26 L389.20,75.57 L389.70,75.89 L390.20,76.22 L390.70,76.55 L391.20,76.88 L391.70,77.22 L392.20,77.57 L392.70,77.92 L393.20,78.27 L393.70,78.63 L394.20,79.00 L394.70,79.36 L395.20,79.74 L395.70,80.12 L396.20,80.50 L396.70,80.89 L397.20,81.29 L397.70,81.69 L398.20,82.10 L398.70,82.51 L399.20,82.93 L399.70,83.35 L400.20,83.78 L400.70,84.21 L401.20,84.66 L401.70,85.10 L402.20,85.56 L402.70,86.02 L403.20,86.48 L403.70,86.95 L404.20,87.43 L404.70,87.92 L405.20,88.41 L405.70,88.91 L406.20,89.41 L406.70,89.92 L407.20,90.44 L407.70,90.97 L408.20,91.50 L408.70,92.04 L409.20,92.58 L409.70,93.14 L410.20,93.70 L410.70,94.27 L411.20,94.85 L411.70,95.43 L412.20,96.02 L412.70,96.62 L413.20,97.23 L413.70,97.84 L414.20,98.47 L414.70,99.10 L415.20,99.74 L415.70,100.39 L416.20,101.04 L416.70,101.71 L417.20,102.38 L417.70,103.07 L418.20,103.76 L418.70,104.46 L419.20,105.17 L419.70,105.88 L420.20,106.61 L420.70,107.35 L421.20,108.09 L421.70,108.85 L422.20,109.61 L422.70,110.39 L423.20,111.17 L423.70,111.97 L424.20,112.77 L424.70,113.58 L425.20,114.41 L425.70,115.24 L426.20,116.09 L426.70,116.94 L427.20,117.81 L427.70,118.68 L428.20,119.57 L428.70,120.47 L429.20,121.37 L429.70,122.29 L430.20,123.22 L430.70,124.16 L431.20,125.12 L431.70,126.08 L432.20,127.05 L432.70,128.04 L433.20,129.04 L433.70,130.05 L434.20,131.07 L434.70,132.10 L435.20,133.15 L435.70,134.20 L436.20,135.27 L436.70,136.35 L437.20,137.45 L437.70,138.55 L438.20,139.67 L438.70,140.80 L439.20,141.94 L439.70,143.10 L440.20,144.27 L440.70,145.45 L441.20,146.64 L441.70,147.85 L442.20,149.07 L442.70,150.30 L443.20,151.55 L443.70,152.81 L444.20,154.08 L444.70,155.36 L445.20,156.66 L445.70,157.97 L446.20,159.30 L446.70,160.64 L447.20,161.99 L447.70,163.35 L448.20,164.73 L448.70,166.13 L449.20,167.53 L449.70,168.95 L450.20,170.39 L450.70,171.83 L451.20,173.29 L451.70,174.77 L452.20,176.26 L452.70,177.76 L453.20,179.27 L453.70,180.80 L454.20,182.35 L454.70,183.90 L455.20,185.47 L455.70,187.06 L456.20,188.65 L456.70,190.26 L457.20,191.89 L457.70,193.53 L458.20,195.18 L458.70,196.84 L459.20,198.52 L459.70,200.21 L460.20,201.91 L460.70,203.63 L461.20,205.36 L461.70,207.10 L462.20,208.86 L462.70,210.63 L463.20,212.41 L463.70,214.20 L464.20,216.01 L464.70,217.82 L465.20,219.65 L465.70,221.49 L466.20,223.35 L466.70,225.21 L467.20,227.09 L467.70,228.98 L468.20,230.88 L468.70,232.78 L469.20,234.71 L469.70,236.64 L470.20,238.58 L470.70,240.53 L471.20,242.49 L471.70,244.46 L472.20,246.44 L472.70,248.43 L473.20,250.42 L473.70,252.43 L474.20,254.44 L474.70,256.46 L475.20,258.49 L475.70,260.53 L476.20,262.57 L476.70,264.62 L477.20,266.68 L477.70,268.74 L478.20,270.81 L478.70,272.89 L479.20,274.96 L479.70,277.05 L480.20,279.13 L480.70,281.23 L481.20,283.32 L481.70,285.42 L482.20,287.52 L482.70,289.62 L483.20,291.72 L483.70,293.83 L484.20,295.93 L484.70,298.04 L485.20,300.14 L485.70,302.25 L486.20,304.35 L486.70,306.46 L487.20,308.56 L487.70,310.65 L488.20,312.75 L488.70,314.84 L489.20,316.93 L489.70,319.01 L490.20,321.09 L490.70,323.16 L491.20,325.23 L491.70,327.29 L492.20,329.34 L492.70,331.38 L493.20,333.42 L493.70,335.45 L494.20,337.46 L494.70,339.47 L495.20,341.47 L495.70,343.46 L496.20,345.43 L496.70,347.40 L497.20,349.35 L497.70,351.29 L498.20,353.21 L498.70,355.12 L499.20,357.01 L499.70,358.89 L500.20,360.76 L500.70,362.61 L501.20,364.44 L501.70,366.25 L502.20,368.05 L502.70,369.83 L503.20,371.59 L503.70,373.33 L504.20,375.05 L504.70,376.75 L505.20,378.43 L505.70,380.09 L506.20,381.72 L506.70,383.34 L507.20,384.93 L507.70,386.51 L508.20,388.06 L508.70,389.58 L509.20,391.08 L509.70,392.56 L510.20,394.02 L510.70,395.45 L511.20,396.85 L511.70,398.23 L512.20,399.59 L512.70,400.92 L513.20,402.22 L513.70,403.50 L514.20,404.76 L514.70,405.98 L515.20,407.19 L515.70,408.36 L516.20,409.51 L516.70,410.63 L517.20,411.73 L517.70,412.80 L518.20,413.84 L518.70,414.86 L519.20,415.86 L519.70,416.82 L520.20,417.76 L520.70,418.68 L521.20,419.56 L521.70,420.43 L522.20,421.27 L522.70,422.08 L523.20,422.87 L523.70,423.63 L524.20,424.37 L524.70,425.08 L525.20,425.77 L525.70,426.44 L526.20,427.09 L526.70,427.71 L527.20,428.31 L527.70,428.88 L528.20,429.44 L528.70,429.97 L529.20,430.48 L529.70,430.98 L530.20,431.45 L530.70,431.90 L531.20,432.33 L531.70,432.75 L532.20,433.14 L532.70,433.52 L533.20,433.88 L533.70,434.23 L534.20,434.55 L534.70,434.87 L535.20,435.16 L535.70,435.44 L536.20,435.71 L536.70,435.96 L537.20,436.20 L537.70,436.43 L538.20,436.64 L538.70,436.84 L539.20,437.04 L539.70,437.21 L540.20,437.38 L540.70,437.54 L541.20,437.69 L541.70,437.83 L542.20,437.96 L542.70,438.08 L543.20,438.20 L543.70,438.30 L544.20,438.40 L544.70,438.49 L545.20,438.58 L545.70,438.66 L546.20,438.73 L546.70,438.80 L547.20,438.86 L547.70,438.92 L548.20,438.97 L548.70,439.02 L549.20,439.07 L549.70,439.11 L550.20,439.15 L550.70,439.18 L551.20,439.22 L551.70,439.24 L552.20,439.27 L552.70,439.30 L553.20,439.32 L553.70,439.34 L554.20,439.35 L554.70,439.37 L555.20,439.39 L555.70,439.40 L556.20,439.41 L556.70,439.42 L557.20,439.43 L557.70,439.44 L558.20,439.45 L558.70,439.45 L559.20,439.46 L559.70,439.46 L560.20,439.47 L560.70,439.47 L561.20,439.48 L561.70,439.48 L562.20,439.48 L562.70,439.48 L563.20,439.49 L563.70,439.49 L564.20,439.49 L564.70,439.49 L565.20,439.49 L565.70,439.49 L566.20,439.50 L566.70,439.50 L567.20,439.50 L567.70,439.50 L568.20,439.50 L568.70,439.50 L569.20,439.50 L569.70,439.50 L570.20,439.50 L570.70,439.50 L571.20,439.50 L571.70,439.50 L572.20,439.50 L572.70,439.50 L573.20,439.50 L573.70,439.50 L574.20,439.50 L574.70,439.50 L575.20,439.50 L575.70,439.50 L576.20,439.50 L576.70,439.50 L577.20,439.50 L577.70,439.50 L578.20,439.50 L578.70,439.50 L579.20,439.50 L579.70,439.50 L580.20,439.50 L580.70,439.50 L581.20,439.50 L581.70,439.50 L582.20,439.50 L582.70,439.50 L583.20,439.50 L583.70,439.50 L584.20,439.50 L584.70,439.50 L585.20,439.50 L585.70,439.50 L586.20,439.50 L586.70,439.50 L587.20,439.50 L587.70,439.50 L588.20,439.50 L588.70,439.50 L589.20,439.50 L589.70,439.50 L590.20,439.50 L590.70,439.50 L591.20,439.50 L591.70,439.50 L592.20,439.50 L592.70,439.50 L593.20,439.50 L593.70,439.50 L594.20,439.50 L594.70,439.50 L595.20,439.50 L595.70,439.50 L596.20,439.50 L596.70,439.50 L597.20,439.50 L597.70,439.50 L598.20,439.50 L598.70,439.50 L599.20,439.50 L599.70,439.50 L600.20,439.50 L600.70,439.50 L601.20,439.50 L601.70,439.50 L602.20,439.50 L602.70,439.50 L603.20,439.50 L603.70,439.50 L604.20,439.50 L604.70,439.50 L605.20,439.50 L605.70,439.50 L606.20,439.50 L606.70,439.50 L607.20,439.50 L607.70,439.50 L608.20,439.50 L608.70,439.50 L609.20,439.50 L609.70,439.50 L610.20,439.50 L610.70,439.50 L611.20,439.50 L611.70,439.50 L612.20,439.50 L612.70,439.50 L613.20,439.50 L613.70,439.50 L614.20,439.50 L614.70,439.50 L615.20,439.50 L615.70,439.50 L616.20,439.50 L616.70,439.50 L617.20,439.50 L617.70,439.50 L618.20,439.50 L618.70,439.50 L619.20,439.50 L619.70,439.50 L620.20,439.50 L620.70,439.50 L621.20,439.50 L621.70,439.50 L622.20,439.50 L622.70,439.50 L623.20,439.50 L623.70,439.50 L624.20,439.50 L624.70,439.50 L625.20,439.50 L625.70,439.50 L626.20,439.50 L626.70,439.50 L627.20,439.50 L627.70,439.50 L628.20,439.50 L628.70,439.50 L629.20,439.50 L629.70,439.50 L630.20,439.50 L630.70,439.50 L631.20,439.50 L631.70,439.50 L632.20,439.50 L632.70,439.50 L633.20,439.50 L633.70,439.50 L634.20,439.50 L634.70,439.50 L635.20,439.50 L635.70,439.50 L636.20,439.50 L636.70,439.50 L637.20,439.50 L637.70,439.50 L638.20,439.50 L638.70,439.50 L639.20,439.50 L639.70,439.50 L640.20,439.50 L640.70,439.50 L641.20,439.50 L641.70,439.50 L642.20,439.50 L642.70,439.50 L643.20,439.50 L643.70,439.50 L644.20,439.50 L644.70,439.50 L645.20,439.50 L645.70,439.50 L646.20,439.50 L646.70,439.50 L647.20,439.50 L647.70,439.50 L648.20,439.50 L648.70,439.50 L649.20,439.50 L649.70,439.50 L650.20,439.50 L650.70,439.50 L651.20,439.50 L651.70,439.50 L652.20,439.50 L652.70,439.50 L653.20,439.50 L653.70,439.50 L654.20,439.50 L654.70,439.50 L655.20,439.50 L655.70,439.50 L656.20,439.50 L656.70,439.50 L657.20,439.50 L657.70,439.50 L658.20,439.50 L658.70,439.50 L659.20,439.50 L659.70,439.50 L660.20,439.50 L660.70,439.50 L661.20,439.50 L661.70,439.50 L662.20,439.50 L662.70,439.50 L663.20,439.50 L663.70,439.50 L664.20,439.50 L664.70,439.50 L665.20,439.50 L665.70,439.50 L666.20,439.50 L666.70,439.50 L667.20,439.50 L667.70,439.50 L668.20,439.50 L668.70,439.50 L669.20,439.50 L669.70,439.50 L670.20,439.50 L670.70,439.50 L671.20,439.50 L671.70,439.50 L672.20,439.50 L672.70,439.50 L673.20,439.50 L673.70,439.50 L674.20,439.50 L674.70,439.50 L675.20,439.50 L675.70,439.50 L676.20,439.50 L676.70,439.50 L677.20,439.50 L677.70,439.50 L678.20,439.50 L678.70,439.50 L679.20,439.50 L679.70,439.50 L680.20,439.50 L680.70,439.50 L681.20,439.50 L681.70,439.50 L682.20,439.50 L682.70,439.50 L683.20,439.50 L683.70,439.50 L684.20,439.50 L684.70,439.50 L685.20,439.50 L685.70,439.50 L686.20,439.50 L686.70,439.50 L687.20,439.50 L687.70,439.50 L688.20,439.50 L688.70,439.50 L689.20,439.50 L689.70,439.50 L690.20,439.50 L690.70,439.50 L691.20,439.50 L691.70,439.50 L692.20,439.50 L692.70,439.50 L693.20,439.50 L693.70,439.50 L694.20,439.50 L694.70,439.50 L695.20,439.50 L695.70,439.50 L696.20,439.50 L696.70,439.50 L697.20,439.50 L697.70,439.50 L698.20,439.50 L698.70,439.50 L699.20,439.50 L699.70,439.50 L700.20,439.50 L700.70,439.50 L701.20,439.50 L701.70,439.50 L702.20,439.50 L702.70,439.50 L703.20,439.50 L703.70,439.50 L704.20,439.50 L704.70,439.50 L705.20,439.50" fill="none" stroke="#998B3D" stroke-width="2.8" stroke-dasharray="5.9 9.206"/>
<g stroke="#000" stroke-width="0.78" fill="none">
<path d="M71.7,439.5 H719.9"/>
<path d="M84.6,46.7 V447.7"/>
<path d="M240.2,439.5 V431.6"/>
<path d="M395.5,439.5 V431.6"/>
<path d="M551.5,439.5 V431.6"/>
<path d="M706.5,439.5 V431.6"/>
<path d="M84.6,439.50 h8"/>
<path d="M84.6,420.19 h4.6"/>
<path d="M84.6,400.89 h4.6"/>
<path d="M84.6,381.58 h4.6"/>
<path d="M84.6,362.28 h8"/>
<path d="M84.6,342.98 h4.6"/>
<path d="M84.6,323.67 h4.6"/>
<path d="M84.6,304.37 h4.6"/>
<path d="M84.6,285.06 h8"/>
<path d="M84.6,265.75 h4.6"/>
<path d="M84.6,246.45 h4.6"/>
<path d="M84.6,227.14 h4.6"/>
<path d="M84.6,207.84 h8"/>
<path d="M84.6,188.53 h4.6"/>
<path d="M84.6,169.23 h4.6"/>
<path d="M84.6,149.92 h4.6"/>
<path d="M84.6,130.62 h8"/>
<path d="M84.6,111.31 h4.6"/>
<path d="M84.6,92.01 h4.6"/>
<path d="M84.6,72.70 h4.6"/>
<path d="M84.6,53.40 h8"/>
</g>
<g font-size="27.4">
<text x="240.6" y="471.2" text-anchor="middle">10</text>
<text x="396.0" y="471.2" text-anchor="middle">100</text>
<text x="551.5" y="471.2" text-anchor="middle">1000</text>
<text x="671.2" y="471.2">10</text><text x="701.9" y="471.2">000</text>
<text x="75.3" y="371.0" text-anchor="end">0.2</text>
<text x="75.3" y="293.8" text-anchor="end">0.4</text>
<text x="75.3" y="216.5" text-anchor="end">0.6</text>
<text x="75.3" y="139.3" text-anchor="end">0.8</text>
<text x="75.3" y="62.1" text-anchor="end">1.0</text>
<text x="743.5" y="446" font-style="italic">t</text>
<text transform="translate(26.0,22.8) scale(0.91,1)" font-style="italic">A</text>
<text x="51.8" y="22.8">(<tspan font-style="italic">t</tspan>)/</text>
<text transform="translate(98.5,22.8) scale(0.91,1)" font-style="italic">A</text>
<text x="123.8" y="22.8">(0)</text>
<g fill="none" stroke="#000" stroke-width="1.4" stroke-linejoin="miter">
<path d="M22.7,4.6 L16.9,15.9 L22.7,27.2"/>
<path d="M44.0,4.6 L50.1,15.9 L44.0,27.2"/>
<path d="M94.2,4.6 L88.3,15.9 L94.2,27.2"/>
<path d="M115.5,4.6 L121.6,15.9 L115.5,27.2"/>
</g>
</g>
<rect x="535.5" y="26.5" width="173" height="192.5" fill="#fff" stroke="#e4e4e4" stroke-width="1"/>
<path d="M543.9,53.5 H583" fill="none" stroke="#000000" stroke-width="2.8" stroke-dasharray="6.3 8.9 15.8 8.9"/>
<text x="603" y="65.3" font-size="27.4" font-style="italic">N</text>
<text transform="translate(623.4,65.3) scale(1.08,1)" font-size="27.4">=</text>
<text x="641.3" y="65.3" font-size="27.4">10</text>
<text x="667.5" y="54.5" font-size="19.6">3</text>
<path d="M543.9,99.8 H585.8" fill="none" stroke="#3F3D99" stroke-width="2.8"/>
<text x="603" y="111.6" font-size="27.4" font-style="italic">N</text>
<text transform="translate(623.4,111.6) scale(1.08,1)" font-size="27.4">=</text>
<text x="641.3" y="111.6" font-size="27.4">10</text>
<text x="667.5" y="100.8" font-size="19.6">4</text>
<path d="M543.9,146.1 H585.8" fill="none" stroke="#993D71" stroke-width="2.8" stroke-dasharray="15.2 9.5"/>
<text x="603" y="157.9" font-size="27.4" font-style="italic">N</text>
<text transform="translate(623.4,157.9) scale(1.08,1)" font-size="27.4">=</text>
<text x="641.3" y="157.9" font-size="27.4">10</text>
<text x="667.5" y="147.1" font-size="19.6">5</text>
<path d="M543.9,192.5 H585.8" fill="none" stroke="#998B3D" stroke-width="2.8" stroke-dasharray="6.3 8.9"/>
<text x="603" y="204.3" font-size="27.4" font-style="italic">N</text>
<text transform="translate(623.4,204.3) scale(1.08,1)" font-size="27.4">=</text>
<text x="641.3" y="204.3" font-size="27.4">10</text>
<text x="667.5" y="193.5" font-size="19.6">6</text>
</svg></body></html>
